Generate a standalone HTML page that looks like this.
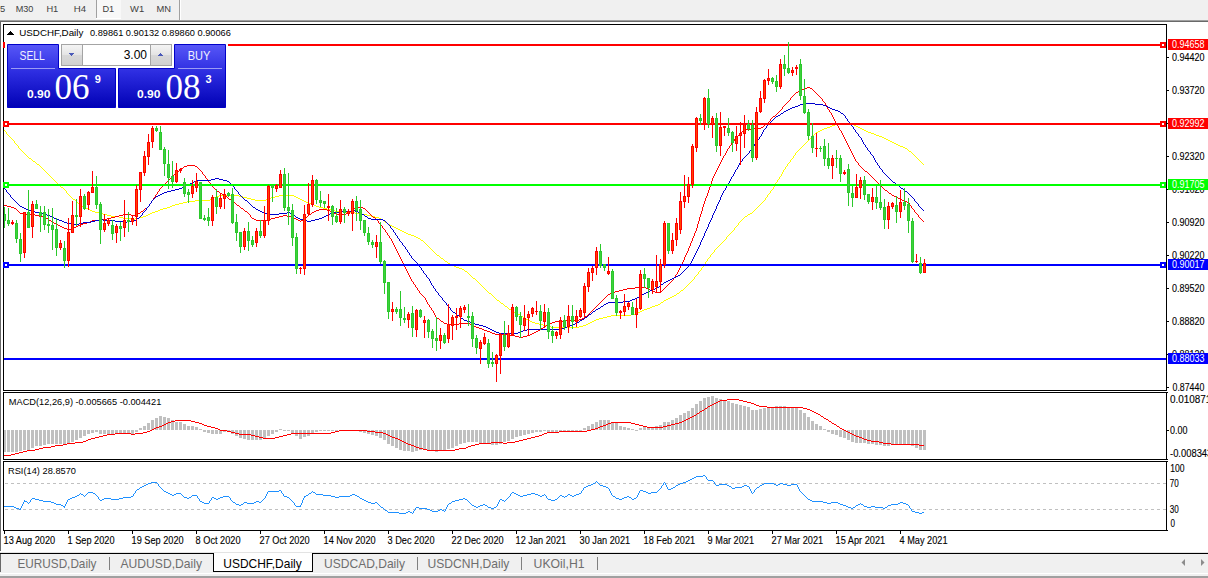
<!DOCTYPE html>
<html><head><meta charset="utf-8"><title>USDCHF,Daily</title>
<style>html,body{margin:0;padding:0;background:#fff;overflow:hidden}svg{display:block}text{font-family:"Liberation Sans",sans-serif}.k{stroke:#000;stroke-width:0.12px}</style>
</head><body>
<svg width="1208" height="578" viewBox="0 0 1208 578">
<rect x="0" y="0" width="1208" height="578" fill="#f0f0f0"/>
<rect x="0" y="20" width="1208" height="1" fill="#a0a0a0"/>
<rect x="0" y="21" width="1208" height="1" fill="#696969"/>
<rect x="1" y="22" width="1207" height="530" fill="#ffffff"/>
<rect x="0" y="21" width="1" height="530" fill="#696969"/>
<rect x="0" y="551" width="1" height="1" fill="#fff"/>
<rect x="96" y="0" width="1" height="18" fill="#a0a0a0"/>
<rect x="97" y="0" width="24" height="18" fill="#f8f8f8"/>
<rect x="179" y="0" width="1" height="20" fill="#a0a0a0"/>
<rect x="180" y="0" width="1" height="20" fill="#ffffff"/>
<rect x="96" y="18" width="25" height="1" fill="#ffffff"/>
<text x="0" y="12" font-size="9.2" fill="#404040" textLength="5.2" lengthAdjust="spacingAndGlyphs">5</text>
<text x="15.7" y="12" font-size="9.2" fill="#404040" textLength="17.7" lengthAdjust="spacingAndGlyphs">M30</text>
<text x="46.4" y="12" font-size="9.2" fill="#404040" textLength="11.9" lengthAdjust="spacingAndGlyphs">H1</text>
<text x="73.7" y="12" font-size="9.2" fill="#404040" textLength="12.3" lengthAdjust="spacingAndGlyphs">H4</text>
<text x="102.4" y="12" font-size="9.2" fill="#404040" textLength="11.8" lengthAdjust="spacingAndGlyphs">D1</text>
<text x="130.1" y="12" font-size="9.2" fill="#404040" textLength="14.1" lengthAdjust="spacingAndGlyphs">W1</text>
<text x="156.6" y="12" font-size="9.2" fill="#404040" textLength="14.5" lengthAdjust="spacingAndGlyphs">MN</text>
<rect x="3" y="24" width="1164" height="1" fill="#000"/>
<rect x="3" y="390" width="1164" height="1" fill="#000"/>
<rect x="3" y="24" width="1" height="367" fill="#000"/>
<rect x="1166" y="24" width="1" height="367" fill="#000"/>
<rect x="3" y="392" width="1164" height="1" fill="#000"/>
<rect x="3" y="459" width="1164" height="1" fill="#000"/>
<rect x="3" y="392" width="1" height="68" fill="#000"/>
<rect x="1166" y="392" width="1" height="68" fill="#000"/>
<rect x="3" y="461" width="1164" height="1" fill="#000"/>
<rect x="3" y="530" width="1164" height="1" fill="#000"/>
<rect x="3" y="461" width="1" height="70" fill="#000"/>
<rect x="1166" y="461" width="1" height="70" fill="#000"/>
<g shape-rendering="crispEdges">
<path d="M839 123h8v1h-8zM835 124h4v1h-4zM847 124h7v1h-7zM832 125h3v1h-3zM854 125h2v1h-2zM830 126h2v1h-2zM856 126h2v1h-2zM827 127h3v1h-3zM858 127h2v1h-2zM824 128h3v1h-3zM860 128h2v1h-2zM822 129h2v1h-2zM862 129h2v1h-2zM4 130h1v1h-1zM820 130h2v1h-2zM864 130h2v1h-2zM5 131h1v1h-1zM818 131h2v1h-2zM866 131h2v1h-2zM6 132h1v1h-1zM816 132h2v1h-2zM868 132h3v1h-3zM6 133h1v1h-1zM815 133h1v1h-1zM871 133h3v1h-3zM7 134h1v1h-1zM814 134h1v1h-1zM874 134h2v1h-2zM8 135h1v1h-1zM813 135h1v1h-1zM876 135h3v1h-3zM9 136h1v1h-1zM812 136h1v1h-1zM879 136h3v1h-3zM10 137h1v1h-1zM811 137h1v1h-1zM882 137h2v1h-2zM11 138h1v1h-1zM810 138h1v1h-1zM884 138h2v1h-2zM12 139h1v1h-1zM809 139h1v1h-1zM886 139h2v1h-2zM13 140h1v1h-1zM808 140h1v1h-1zM888 140h2v1h-2zM14 141h1v1h-1zM807 141h1v1h-1zM890 141h2v1h-2zM14 142h1v1h-1zM806 142h1v1h-1zM892 142h2v1h-2zM15 143h1v1h-1zM805 143h1v1h-1zM894 143h2v1h-2zM16 144h1v1h-1zM804 144h1v1h-1zM896 144h2v1h-2zM17 145h1v1h-1zM803 145h1v1h-1zM898 145h2v1h-2zM18 146h1v1h-1zM802 146h1v1h-1zM900 146h3v1h-3zM18 147h1v1h-1zM801 147h1v1h-1zM903 147h2v1h-2zM19 148h1v1h-1zM800 148h1v1h-1zM905 148h2v1h-2zM20 149h1v1h-1zM799 149h1v1h-1zM907 149h1v1h-1zM21 150h1v1h-1zM798 150h1v1h-1zM908 150h1v1h-1zM22 151h1v1h-1zM797 151h1v1h-1zM909 151h2v1h-2zM23 152h1v1h-1zM796 152h1v1h-1zM911 152h1v1h-1zM24 153h1v1h-1zM795 153h1v1h-1zM912 153h1v1h-1zM25 154h1v1h-1zM795 154h1v1h-1zM913 154h1v1h-1zM26 155h1v1h-1zM794 155h1v1h-1zM914 155h1v1h-1zM27 156h1v1h-1zM793 156h1v1h-1zM915 156h1v1h-1zM28 157h1v1h-1zM793 157h1v1h-1zM916 157h1v1h-1zM29 158h2v1h-2zM792 158h1v1h-1zM917 158h1v1h-1zM31 159h1v1h-1zM791 159h1v1h-1zM918 159h1v1h-1zM32 160h1v1h-1zM790 160h1v1h-1zM919 160h1v1h-1zM33 161h2v1h-2zM790 161h1v1h-1zM920 161h1v1h-1zM35 162h1v1h-1zM789 162h1v1h-1zM921 162h1v1h-1zM36 163h1v1h-1zM788 163h1v1h-1zM922 163h1v1h-1zM37 164h2v1h-2zM787 164h1v1h-1zM923 164h1v1h-1zM39 165h1v1h-1zM787 165h1v1h-1zM40 166h1v1h-1zM786 166h1v1h-1zM41 167h1v1h-1zM785 167h1v1h-1zM42 168h1v1h-1zM785 168h1v1h-1zM43 169h1v1h-1zM784 169h1v1h-1zM44 170h1v1h-1zM783 170h1v1h-1zM45 171h1v1h-1zM783 171h1v1h-1zM46 172h1v1h-1zM782 172h1v1h-1zM47 173h1v1h-1zM782 173h1v1h-1zM48 174h1v1h-1zM781 174h1v1h-1zM49 175h1v1h-1zM781 175h1v1h-1zM50 176h1v1h-1zM780 176h1v1h-1zM51 177h1v1h-1zM779 177h1v1h-1zM52 178h1v1h-1zM779 178h1v1h-1zM53 179h1v1h-1zM778 179h1v1h-1zM54 180h1v1h-1zM777 180h1v1h-1zM55 181h1v1h-1zM777 181h1v1h-1zM56 182h1v1h-1zM776 182h1v1h-1zM57 183h1v1h-1zM775 183h1v1h-1zM58 184h1v1h-1zM775 184h1v1h-1zM59 185h1v1h-1zM774 185h1v1h-1zM60 186h1v1h-1zM774 186h1v1h-1zM61 187h2v1h-2zM773 187h1v1h-1zM63 188h1v1h-1zM773 188h1v1h-1zM64 189h1v1h-1zM772 189h1v1h-1zM65 190h1v1h-1zM771 190h1v1h-1zM66 191h1v1h-1zM770 191h1v1h-1zM66 192h1v1h-1zM770 192h1v1h-1zM67 193h1v1h-1zM769 193h1v1h-1zM68 194h1v1h-1zM768 194h1v1h-1zM69 195h1v1h-1zM219 195h20v1h-20zM279 195h15v1h-15zM767 195h1v1h-1zM70 196h1v1h-1zM216 196h3v1h-3zM239 196h4v1h-4zM275 196h4v1h-4zM294 196h2v1h-2zM767 196h1v1h-1zM71 197h1v1h-1zM214 197h2v1h-2zM243 197h4v1h-4zM271 197h4v1h-4zM296 197h2v1h-2zM766 197h1v1h-1zM72 198h1v1h-1zM212 198h2v1h-2zM247 198h4v1h-4zM268 198h3v1h-3zM298 198h2v1h-2zM765 198h1v1h-1zM73 199h2v1h-2zM210 199h2v1h-2zM251 199h4v1h-4zM266 199h2v1h-2zM300 199h2v1h-2zM765 199h1v1h-1zM75 200h1v1h-1zM195 200h15v1h-15zM255 200h11v1h-11zM302 200h2v1h-2zM764 200h1v1h-1zM76 201h1v1h-1zM187 201h8v1h-8zM304 201h2v1h-2zM763 201h1v1h-1zM77 202h1v1h-1zM183 202h4v1h-4zM306 202h2v1h-2zM762 202h1v1h-1zM78 203h1v1h-1zM179 203h4v1h-4zM308 203h3v1h-3zM761 203h1v1h-1zM79 204h1v1h-1zM175 204h4v1h-4zM311 204h3v1h-3zM760 204h1v1h-1zM80 205h2v1h-2zM172 205h3v1h-3zM314 205h2v1h-2zM759 205h1v1h-1zM82 206h2v1h-2zM170 206h2v1h-2zM316 206h3v1h-3zM758 206h1v1h-1zM84 207h2v1h-2zM167 207h3v1h-3zM319 207h4v1h-4zM757 207h1v1h-1zM86 208h2v1h-2zM163 208h4v1h-4zM323 208h4v1h-4zM756 208h1v1h-1zM88 209h2v1h-2zM160 209h3v1h-3zM327 209h4v1h-4zM755 209h1v1h-1zM90 210h2v1h-2zM158 210h2v1h-2zM331 210h4v1h-4zM754 210h1v1h-1zM92 211h3v1h-3zM155 211h3v1h-3zM335 211h8v1h-8zM753 211h1v1h-1zM95 212h4v1h-4zM152 212h3v1h-3zM343 212h12v1h-12zM752 212h1v1h-1zM99 213h4v1h-4zM150 213h2v1h-2zM355 213h4v1h-4zM750 213h2v1h-2zM103 214h4v1h-4zM148 214h2v1h-2zM359 214h8v1h-8zM748 214h2v1h-2zM107 215h4v1h-4zM146 215h2v1h-2zM367 215h4v1h-4zM747 215h1v1h-1zM111 216h8v1h-8zM143 216h3v1h-3zM371 216h4v1h-4zM745 216h2v1h-2zM119 217h4v1h-4zM139 217h4v1h-4zM375 217h4v1h-4zM744 217h1v1h-1zM123 218h8v1h-8zM135 218h4v1h-4zM379 218h2v1h-2zM743 218h1v1h-1zM131 219h4v1h-4zM381 219h2v1h-2zM742 219h1v1h-1zM383 220h1v1h-1zM741 220h1v1h-1zM384 221h1v1h-1zM740 221h1v1h-1zM385 222h2v1h-2zM739 222h1v1h-1zM387 223h1v1h-1zM738 223h1v1h-1zM388 224h2v1h-2zM738 224h1v1h-1zM390 225h2v1h-2zM737 225h1v1h-1zM392 226h2v1h-2zM736 226h1v1h-1zM394 227h2v1h-2zM735 227h1v1h-1zM396 228h2v1h-2zM734 228h1v1h-1zM398 229h2v1h-2zM734 229h1v1h-1zM400 230h2v1h-2zM733 230h1v1h-1zM402 231h2v1h-2zM732 231h1v1h-1zM404 232h2v1h-2zM731 232h1v1h-1zM406 233h2v1h-2zM730 233h1v1h-1zM408 234h3v1h-3zM729 234h1v1h-1zM411 235h3v1h-3zM728 235h1v1h-1zM414 236h2v1h-2zM727 236h1v1h-1zM416 237h2v1h-2zM726 237h1v1h-1zM418 238h2v1h-2zM726 238h1v1h-1zM420 239h1v1h-1zM725 239h1v1h-1zM421 240h2v1h-2zM724 240h1v1h-1zM423 241h1v1h-1zM723 241h1v1h-1zM424 242h1v1h-1zM722 242h1v1h-1zM425 243h1v1h-1zM721 243h1v1h-1zM426 244h1v1h-1zM720 244h1v1h-1zM427 245h1v1h-1zM719 245h1v1h-1zM428 246h1v1h-1zM718 246h1v1h-1zM429 247h1v1h-1zM717 247h1v1h-1zM430 248h1v1h-1zM716 248h1v1h-1zM431 249h1v1h-1zM715 249h1v1h-1zM432 250h1v1h-1zM714 250h1v1h-1zM433 251h1v1h-1zM714 251h1v1h-1zM434 252h1v1h-1zM713 252h1v1h-1zM435 253h1v1h-1zM712 253h1v1h-1zM436 254h1v1h-1zM711 254h1v1h-1zM437 255h2v1h-2zM710 255h1v1h-1zM439 256h1v1h-1zM710 256h1v1h-1zM440 257h1v1h-1zM709 257h1v1h-1zM441 258h2v1h-2zM708 258h1v1h-1zM443 259h1v1h-1zM707 259h1v1h-1zM444 260h1v1h-1zM707 260h1v1h-1zM445 261h2v1h-2zM706 261h1v1h-1zM447 262h1v1h-1zM705 262h1v1h-1zM448 263h2v1h-2zM705 263h1v1h-1zM450 264h2v1h-2zM704 264h1v1h-1zM452 265h2v1h-2zM703 265h1v1h-1zM454 266h2v1h-2zM703 266h1v1h-1zM456 267h3v1h-3zM702 267h1v1h-1zM459 268h3v1h-3zM701 268h1v1h-1zM462 269h2v1h-2zM701 269h1v1h-1zM464 270h1v1h-1zM700 270h1v1h-1zM465 271h2v1h-2zM699 271h1v1h-1zM467 272h1v1h-1zM698 272h1v1h-1zM468 273h1v1h-1zM698 273h1v1h-1zM469 274h1v1h-1zM697 274h1v1h-1zM470 275h1v1h-1zM696 275h1v1h-1zM471 276h1v1h-1zM695 276h1v1h-1zM472 277h1v1h-1zM694 277h1v1h-1zM473 278h2v1h-2zM694 278h1v1h-1zM475 279h1v1h-1zM693 279h1v1h-1zM476 280h1v1h-1zM692 280h1v1h-1zM477 281h1v1h-1zM691 281h1v1h-1zM478 282h1v1h-1zM690 282h1v1h-1zM479 283h1v1h-1zM689 283h1v1h-1zM480 284h1v1h-1zM688 284h1v1h-1zM481 285h1v1h-1zM687 285h1v1h-1zM482 286h1v1h-1zM686 286h1v1h-1zM483 287h1v1h-1zM685 287h1v1h-1zM484 288h1v1h-1zM684 288h1v1h-1zM485 289h1v1h-1zM683 289h1v1h-1zM486 290h1v1h-1zM681 290h2v1h-2zM487 291h1v1h-1zM680 291h1v1h-1zM488 292h1v1h-1zM679 292h1v1h-1zM489 293h2v1h-2zM677 293h2v1h-2zM491 294h1v1h-1zM676 294h1v1h-1zM492 295h1v1h-1zM674 295h2v1h-2zM493 296h1v1h-1zM672 296h2v1h-2zM494 297h1v1h-1zM670 297h2v1h-2zM495 298h1v1h-1zM668 298h2v1h-2zM496 299h1v1h-1zM666 299h2v1h-2zM497 300h2v1h-2zM664 300h2v1h-2zM499 301h1v1h-1zM663 301h1v1h-1zM500 302h1v1h-1zM661 302h2v1h-2zM501 303h2v1h-2zM660 303h1v1h-1zM503 304h1v1h-1zM658 304h2v1h-2zM504 305h1v1h-1zM655 305h3v1h-3zM505 306h2v1h-2zM652 306h3v1h-3zM507 307h1v1h-1zM650 307h2v1h-2zM508 308h1v1h-1zM647 308h3v1h-3zM509 309h2v1h-2zM644 309h3v1h-3zM511 310h1v1h-1zM642 310h2v1h-2zM512 311h2v1h-2zM640 311h2v1h-2zM514 312h2v1h-2zM638 312h2v1h-2zM516 313h2v1h-2zM635 313h3v1h-3zM518 314h2v1h-2zM631 314h4v1h-4zM520 315h1v1h-1zM611 315h20v1h-20zM521 316h2v1h-2zM607 316h4v1h-4zM523 317h1v1h-1zM603 317h4v1h-4zM524 318h2v1h-2zM599 318h4v1h-4zM526 319h2v1h-2zM596 319h3v1h-3zM528 320h2v1h-2zM594 320h2v1h-2zM530 321h2v1h-2zM592 321h2v1h-2zM532 322h3v1h-3zM590 322h2v1h-2zM535 323h4v1h-4zM588 323h2v1h-2zM539 324h4v1h-4zM586 324h2v1h-2zM543 325h4v1h-4zM583 325h3v1h-3zM547 326h4v1h-4zM579 326h4v1h-4zM551 327h28v1h-28z" fill="#ffff00"/>
<path d="M807 87h3v1h-3zM804 88h3v1h-3zM810 88h2v1h-2zM802 89h2v1h-2zM812 89h1v1h-1zM800 90h2v1h-2zM813 90h1v1h-1zM798 91h2v1h-2zM814 91h1v1h-1zM796 92h2v1h-2zM815 92h1v1h-1zM795 93h1v1h-1zM816 93h1v1h-1zM794 94h1v1h-1zM817 94h1v1h-1zM793 95h1v1h-1zM818 95h1v1h-1zM792 96h1v1h-1zM819 96h1v1h-1zM791 97h1v1h-1zM820 97h1v1h-1zM790 98h1v1h-1zM821 98h1v1h-1zM790 99h1v1h-1zM822 99h1v1h-1zM789 100h1v1h-1zM822 100h1v1h-1zM788 101h1v1h-1zM823 101h1v1h-1zM787 102h1v1h-1zM824 102h1v1h-1zM786 103h1v1h-1zM825 103h1v1h-1zM785 104h1v1h-1zM825 104h1v1h-1zM784 105h1v1h-1zM826 105h1v1h-1zM783 106h1v1h-1zM826 106h1v1h-1zM782 107h1v1h-1zM827 107h1v1h-1zM782 108h1v1h-1zM827 108h1v1h-1zM781 109h1v1h-1zM828 109h1v1h-1zM780 110h1v1h-1zM829 110h1v1h-1zM779 111h1v1h-1zM829 111h1v1h-1zM778 112h1v1h-1zM830 112h1v1h-1zM777 113h1v1h-1zM831 113h1v1h-1zM776 114h1v1h-1zM831 114h1v1h-1zM775 115h1v1h-1zM832 115h1v1h-1zM773 116h2v1h-2zM832 116h1v1h-1zM772 117h1v1h-1zM833 117h1v1h-1zM771 118h1v1h-1zM833 118h1v1h-1zM770 119h1v1h-1zM834 119h1v1h-1zM770 120h1v1h-1zM834 120h1v1h-1zM769 121h1v1h-1zM835 121h1v1h-1zM768 122h1v1h-1zM835 122h1v1h-1zM767 123h1v1h-1zM836 123h1v1h-1zM765 124h2v1h-2zM837 124h1v1h-1zM764 125h1v1h-1zM837 125h1v1h-1zM763 126h1v1h-1zM838 126h1v1h-1zM761 127h2v1h-2zM838 127h1v1h-1zM751 128h10v1h-10zM839 128h1v1h-1zM744 129h7v1h-7zM839 129h1v1h-1zM743 130h1v1h-1zM840 130h1v1h-1zM742 131h1v1h-1zM841 131h1v1h-1zM741 132h1v1h-1zM841 132h1v1h-1zM740 133h1v1h-1zM842 133h1v1h-1zM739 134h1v1h-1zM842 134h1v1h-1zM738 135h1v1h-1zM843 135h1v1h-1zM737 136h1v1h-1zM843 136h1v1h-1zM736 137h1v1h-1zM844 137h1v1h-1zM735 138h1v1h-1zM844 138h1v1h-1zM734 139h1v1h-1zM845 139h1v1h-1zM734 140h1v1h-1zM845 140h1v1h-1zM733 141h1v1h-1zM846 141h1v1h-1zM732 142h1v1h-1zM846 142h1v1h-1zM731 143h1v1h-1zM847 143h1v1h-1zM731 144h1v1h-1zM847 144h1v1h-1zM730 145h1v1h-1zM848 145h1v1h-1zM729 146h1v1h-1zM848 146h1v1h-1zM729 147h1v1h-1zM849 147h1v1h-1zM728 148h1v1h-1zM849 148h1v1h-1zM727 149h1v1h-1zM850 149h1v1h-1zM727 150h1v1h-1zM850 150h1v1h-1zM726 151h1v1h-1zM851 151h1v1h-1zM726 152h1v1h-1zM851 152h1v1h-1zM725 153h1v1h-1zM852 153h1v1h-1zM725 154h1v1h-1zM852 154h1v1h-1zM724 155h1v1h-1zM853 155h1v1h-1zM723 156h1v1h-1zM853 156h1v1h-1zM723 157h1v1h-1zM854 157h1v1h-1zM722 158h1v1h-1zM854 158h1v1h-1zM722 159h1v1h-1zM855 159h1v1h-1zM721 160h1v1h-1zM855 160h1v1h-1zM721 161h1v1h-1zM856 161h1v1h-1zM720 162h1v1h-1zM857 162h1v1h-1zM720 163h1v1h-1zM858 163h1v1h-1zM719 164h1v1h-1zM858 164h1v1h-1zM187 165h8v1h-8zM719 165h1v1h-1zM859 165h1v1h-1zM184 166h3v1h-3zM195 166h2v1h-2zM718 166h1v1h-1zM860 166h1v1h-1zM183 167h1v1h-1zM197 167h1v1h-1zM718 167h1v1h-1zM861 167h1v1h-1zM181 168h2v1h-2zM198 168h1v1h-1zM717 168h1v1h-1zM862 168h1v1h-1zM180 169h1v1h-1zM199 169h1v1h-1zM717 169h1v1h-1zM863 169h1v1h-1zM179 170h1v1h-1zM200 170h1v1h-1zM716 170h1v1h-1zM864 170h1v1h-1zM177 171h2v1h-2zM201 171h1v1h-1zM716 171h1v1h-1zM865 171h2v1h-2zM176 172h1v1h-1zM202 172h1v1h-1zM715 172h1v1h-1zM867 172h1v1h-1zM175 173h1v1h-1zM202 173h1v1h-1zM715 173h1v1h-1zM868 173h1v1h-1zM174 174h1v1h-1zM203 174h1v1h-1zM714 174h1v1h-1zM869 174h1v1h-1zM173 175h1v1h-1zM204 175h1v1h-1zM714 175h1v1h-1zM870 175h1v1h-1zM172 176h1v1h-1zM205 176h1v1h-1zM713 176h1v1h-1zM871 176h1v1h-1zM171 177h1v1h-1zM205 177h1v1h-1zM713 177h1v1h-1zM872 177h1v1h-1zM170 178h1v1h-1zM206 178h1v1h-1zM712 178h1v1h-1zM873 178h1v1h-1zM169 179h1v1h-1zM207 179h1v1h-1zM712 179h1v1h-1zM874 179h1v1h-1zM168 180h1v1h-1zM207 180h1v1h-1zM712 180h1v1h-1zM875 180h1v1h-1zM167 181h1v1h-1zM208 181h1v1h-1zM711 181h1v1h-1zM876 181h1v1h-1zM166 182h1v1h-1zM209 182h1v1h-1zM711 182h1v1h-1zM877 182h1v1h-1zM165 183h1v1h-1zM210 183h1v1h-1zM711 183h1v1h-1zM878 183h1v1h-1zM164 184h1v1h-1zM210 184h1v1h-1zM710 184h1v1h-1zM879 184h1v1h-1zM163 185h1v1h-1zM211 185h1v1h-1zM710 185h1v1h-1zM880 185h1v1h-1zM162 186h1v1h-1zM212 186h1v1h-1zM710 186h1v1h-1zM881 186h1v1h-1zM161 187h1v1h-1zM213 187h1v1h-1zM709 187h1v1h-1zM882 187h1v1h-1zM160 188h1v1h-1zM214 188h1v1h-1zM709 188h1v1h-1zM883 188h1v1h-1zM159 189h1v1h-1zM215 189h1v1h-1zM709 189h1v1h-1zM884 189h1v1h-1zM159 190h1v1h-1zM216 190h1v1h-1zM708 190h1v1h-1zM885 190h2v1h-2zM158 191h1v1h-1zM217 191h2v1h-2zM708 191h1v1h-1zM887 191h1v1h-1zM157 192h1v1h-1zM219 192h1v1h-1zM708 192h1v1h-1zM888 192h1v1h-1zM157 193h1v1h-1zM220 193h2v1h-2zM707 193h1v1h-1zM889 193h2v1h-2zM156 194h1v1h-1zM222 194h2v1h-2zM707 194h1v1h-1zM891 194h1v1h-1zM155 195h1v1h-1zM224 195h1v1h-1zM707 195h1v1h-1zM892 195h2v1h-2zM155 196h1v1h-1zM225 196h2v1h-2zM706 196h1v1h-1zM894 196h2v1h-2zM154 197h1v1h-1zM227 197h1v1h-1zM706 197h1v1h-1zM896 197h2v1h-2zM153 198h1v1h-1zM228 198h1v1h-1zM705 198h1v1h-1zM898 198h2v1h-2zM153 199h1v1h-1zM229 199h2v1h-2zM705 199h1v1h-1zM900 199h2v1h-2zM152 200h1v1h-1zM231 200h1v1h-1zM705 200h1v1h-1zM902 200h2v1h-2zM151 201h1v1h-1zM232 201h1v1h-1zM704 201h1v1h-1zM904 201h3v1h-3zM151 202h1v1h-1zM233 202h2v1h-2zM704 202h1v1h-1zM907 202h2v1h-2zM150 203h1v1h-1zM235 203h1v1h-1zM704 203h1v1h-1zM909 203h1v1h-1zM149 204h1v1h-1zM236 204h1v1h-1zM703 204h1v1h-1zM909 204h1v1h-1zM4 205h3v1h-3zM149 205h1v1h-1zM237 205h2v1h-2zM703 205h1v1h-1zM910 205h1v1h-1zM7 206h4v1h-4zM148 206h1v1h-1zM239 206h1v1h-1zM703 206h1v1h-1zM911 206h1v1h-1zM11 207h3v1h-3zM147 207h1v1h-1zM240 207h1v1h-1zM356 207h7v1h-7zM702 207h1v1h-1zM911 207h1v1h-1zM14 208h2v1h-2zM145 208h2v1h-2zM241 208h2v1h-2zM354 208h2v1h-2zM363 208h2v1h-2zM702 208h1v1h-1zM912 208h1v1h-1zM16 209h1v1h-1zM144 209h1v1h-1zM243 209h1v1h-1zM319 209h8v1h-8zM352 209h2v1h-2zM365 209h1v1h-1zM702 209h1v1h-1zM913 209h1v1h-1zM17 210h1v1h-1zM143 210h1v1h-1zM244 210h1v1h-1zM316 210h3v1h-3zM327 210h3v1h-3zM351 210h1v1h-1zM366 210h1v1h-1zM702 210h1v1h-1zM914 210h1v1h-1zM18 211h1v1h-1zM141 211h2v1h-2zM245 211h2v1h-2zM314 211h2v1h-2zM330 211h2v1h-2zM349 211h2v1h-2zM367 211h1v1h-1zM701 211h1v1h-1zM914 211h1v1h-1zM19 212h1v1h-1zM140 212h1v1h-1zM247 212h1v1h-1zM312 212h2v1h-2zM332 212h2v1h-2zM348 212h1v1h-1zM368 212h1v1h-1zM701 212h1v1h-1zM915 212h1v1h-1zM20 213h3v1h-3zM138 213h2v1h-2zM248 213h1v1h-1zM311 213h1v1h-1zM334 213h2v1h-2zM346 213h2v1h-2zM369 213h1v1h-1zM701 213h1v1h-1zM916 213h1v1h-1zM23 214h12v1h-12zM123 214h8v1h-8zM135 214h3v1h-3zM249 214h1v1h-1zM309 214h2v1h-2zM336 214h10v1h-10zM370 214h1v1h-1zM700 214h1v1h-1zM917 214h1v1h-1zM35 215h4v1h-4zM119 215h4v1h-4zM131 215h4v1h-4zM250 215h1v1h-1zM283 215h4v1h-4zM308 215h1v1h-1zM371 215h1v1h-1zM700 215h1v1h-1zM918 215h1v1h-1zM39 216h4v1h-4zM115 216h4v1h-4zM250 216h1v1h-1zM279 216h4v1h-4zM287 216h4v1h-4zM307 216h1v1h-1zM372 216h1v1h-1zM700 216h1v1h-1zM918 216h1v1h-1zM43 217h3v1h-3zM111 217h4v1h-4zM251 217h1v1h-1zM275 217h4v1h-4zM291 217h3v1h-3zM305 217h2v1h-2zM373 217h2v1h-2zM699 217h1v1h-1zM919 217h1v1h-1zM46 218h2v1h-2zM107 218h4v1h-4zM252 218h2v1h-2zM271 218h4v1h-4zM294 218h2v1h-2zM304 218h1v1h-1zM375 218h1v1h-1zM699 218h1v1h-1zM920 218h1v1h-1zM48 219h1v1h-1zM99 219h8v1h-8zM254 219h2v1h-2zM267 219h4v1h-4zM296 219h2v1h-2zM303 219h1v1h-1zM376 219h1v1h-1zM699 219h1v1h-1zM921 219h1v1h-1zM49 220h2v1h-2zM92 220h7v1h-7zM256 220h11v1h-11zM298 220h2v1h-2zM301 220h2v1h-2zM377 220h1v1h-1zM699 220h1v1h-1zM922 220h1v1h-1zM51 221h1v1h-1zM90 221h2v1h-2zM300 221h1v1h-1zM378 221h1v1h-1zM698 221h1v1h-1zM923 221h1v1h-1zM52 222h2v1h-2zM87 222h3v1h-3zM378 222h1v1h-1zM698 222h1v1h-1zM54 223h2v1h-2zM83 223h4v1h-4zM379 223h1v1h-1zM698 223h1v1h-1zM56 224h2v1h-2zM80 224h3v1h-3zM380 224h1v1h-1zM697 224h1v1h-1zM58 225h2v1h-2zM78 225h2v1h-2zM381 225h1v1h-1zM697 225h1v1h-1zM60 226h2v1h-2zM76 226h2v1h-2zM382 226h1v1h-1zM697 226h1v1h-1zM62 227h2v1h-2zM74 227h2v1h-2zM382 227h1v1h-1zM697 227h1v1h-1zM64 228h3v1h-3zM71 228h3v1h-3zM383 228h1v1h-1zM696 228h1v1h-1zM67 229h4v1h-4zM384 229h1v1h-1zM696 229h1v1h-1zM385 230h1v1h-1zM696 230h1v1h-1zM385 231h1v1h-1zM695 231h1v1h-1zM386 232h1v1h-1zM695 232h1v1h-1zM387 233h1v1h-1zM694 233h1v1h-1zM387 234h1v1h-1zM694 234h1v1h-1zM388 235h1v1h-1zM694 235h1v1h-1zM389 236h1v1h-1zM693 236h1v1h-1zM389 237h1v1h-1zM693 237h1v1h-1zM390 238h1v1h-1zM692 238h1v1h-1zM391 239h1v1h-1zM692 239h1v1h-1zM391 240h1v1h-1zM692 240h1v1h-1zM392 241h1v1h-1zM691 241h1v1h-1zM392 242h1v1h-1zM691 242h1v1h-1zM393 243h1v1h-1zM690 243h1v1h-1zM393 244h1v1h-1zM690 244h1v1h-1zM394 245h1v1h-1zM690 245h1v1h-1zM394 246h1v1h-1zM689 246h1v1h-1zM395 247h1v1h-1zM689 247h1v1h-1zM395 248h1v1h-1zM688 248h1v1h-1zM396 249h1v1h-1zM688 249h1v1h-1zM396 250h1v1h-1zM688 250h1v1h-1zM397 251h1v1h-1zM687 251h1v1h-1zM397 252h1v1h-1zM687 252h1v1h-1zM398 253h1v1h-1zM686 253h1v1h-1zM398 254h1v1h-1zM686 254h1v1h-1zM399 255h1v1h-1zM685 255h1v1h-1zM399 256h1v1h-1zM685 256h1v1h-1zM400 257h1v1h-1zM684 257h1v1h-1zM400 258h1v1h-1zM684 258h1v1h-1zM401 259h1v1h-1zM684 259h1v1h-1zM401 260h1v1h-1zM683 260h1v1h-1zM402 261h1v1h-1zM683 261h1v1h-1zM402 262h1v1h-1zM682 262h1v1h-1zM403 263h1v1h-1zM682 263h1v1h-1zM403 264h1v1h-1zM681 264h1v1h-1zM404 265h1v1h-1zM681 265h1v1h-1zM404 266h1v1h-1zM680 266h1v1h-1zM405 267h1v1h-1zM680 267h1v1h-1zM405 268h1v1h-1zM679 268h1v1h-1zM406 269h1v1h-1zM679 269h1v1h-1zM406 270h1v1h-1zM678 270h1v1h-1zM407 271h1v1h-1zM678 271h1v1h-1zM407 272h1v1h-1zM677 272h1v1h-1zM408 273h1v1h-1zM677 273h1v1h-1zM408 274h1v1h-1zM676 274h1v1h-1zM409 275h1v1h-1zM675 275h1v1h-1zM409 276h1v1h-1zM675 276h1v1h-1zM410 277h1v1h-1zM674 277h1v1h-1zM410 278h1v1h-1zM673 278h1v1h-1zM411 279h1v1h-1zM673 279h1v1h-1zM411 280h1v1h-1zM672 280h1v1h-1zM412 281h1v1h-1zM671 281h1v1h-1zM413 282h1v1h-1zM670 282h1v1h-1zM413 283h1v1h-1zM669 283h1v1h-1zM414 284h1v1h-1zM668 284h1v1h-1zM415 285h1v1h-1zM667 285h1v1h-1zM415 286h1v1h-1zM666 286h1v1h-1zM416 287h1v1h-1zM635 287h11v1h-11zM665 287h1v1h-1zM417 288h1v1h-1zM627 288h8v1h-8zM646 288h2v1h-2zM664 288h1v1h-1zM417 289h1v1h-1zM623 289h4v1h-4zM648 289h2v1h-2zM663 289h1v1h-1zM418 290h1v1h-1zM619 290h4v1h-4zM650 290h2v1h-2zM662 290h1v1h-1zM419 291h1v1h-1zM615 291h4v1h-4zM652 291h3v1h-3zM661 291h1v1h-1zM419 292h1v1h-1zM612 292h3v1h-3zM655 292h6v1h-6zM420 293h1v1h-1zM610 293h2v1h-2zM421 294h1v1h-1zM608 294h2v1h-2zM422 295h1v1h-1zM607 295h1v1h-1zM423 296h1v1h-1zM606 296h1v1h-1zM424 297h1v1h-1zM605 297h1v1h-1zM425 298h1v1h-1zM604 298h1v1h-1zM425 299h1v1h-1zM603 299h1v1h-1zM426 300h1v1h-1zM602 300h1v1h-1zM426 301h1v1h-1zM601 301h1v1h-1zM427 302h1v1h-1zM600 302h1v1h-1zM427 303h1v1h-1zM599 303h1v1h-1zM428 304h1v1h-1zM598 304h1v1h-1zM429 305h1v1h-1zM597 305h1v1h-1zM429 306h1v1h-1zM596 306h1v1h-1zM430 307h1v1h-1zM595 307h1v1h-1zM431 308h1v1h-1zM594 308h1v1h-1zM431 309h1v1h-1zM593 309h1v1h-1zM432 310h1v1h-1zM592 310h1v1h-1zM433 311h1v1h-1zM591 311h1v1h-1zM433 312h1v1h-1zM590 312h1v1h-1zM434 313h1v1h-1zM589 313h1v1h-1zM434 314h1v1h-1zM588 314h1v1h-1zM435 315h1v1h-1zM587 315h1v1h-1zM435 316h1v1h-1zM585 316h2v1h-2zM436 317h1v1h-1zM584 317h1v1h-1zM437 318h2v1h-2zM582 318h2v1h-2zM439 319h1v1h-1zM579 319h3v1h-3zM440 320h1v1h-1zM563 320h16v1h-16zM441 321h2v1h-2zM555 321h8v1h-8zM443 322h1v1h-1zM552 322h3v1h-3zM444 323h3v1h-3zM459 323h11v1h-11zM550 323h2v1h-2zM447 324h12v1h-12zM470 324h2v1h-2zM548 324h2v1h-2zM472 325h2v1h-2zM546 325h2v1h-2zM474 326h2v1h-2zM544 326h2v1h-2zM476 327h3v1h-3zM543 327h1v1h-1zM479 328h3v1h-3zM541 328h2v1h-2zM482 329h2v1h-2zM540 329h1v1h-1zM484 330h3v1h-3zM538 330h2v1h-2zM487 331h3v1h-3zM536 331h2v1h-2zM490 332h2v1h-2zM534 332h2v1h-2zM492 333h3v1h-3zM532 333h2v1h-2zM495 334h12v1h-12zM530 334h2v1h-2zM507 335h8v1h-8zM527 335h3v1h-3zM515 336h4v1h-4zM523 336h4v1h-4zM519 337h4v1h-4z" fill="#ff0000"/>
<path d="M803 103h12v1h-12zM800 104h3v1h-3zM815 104h8v1h-8zM798 105h2v1h-2zM823 105h3v1h-3zM795 106h3v1h-3zM826 106h2v1h-2zM792 107h3v1h-3zM828 107h2v1h-2zM790 108h2v1h-2zM830 108h2v1h-2zM788 109h2v1h-2zM832 109h3v1h-3zM786 110h2v1h-2zM835 110h3v1h-3zM784 111h2v1h-2zM838 111h2v1h-2zM783 112h1v1h-1zM840 112h1v1h-1zM781 113h2v1h-2zM841 113h2v1h-2zM780 114h1v1h-1zM843 114h1v1h-1zM778 115h2v1h-2zM844 115h1v1h-1zM776 116h2v1h-2zM845 116h1v1h-1zM775 117h1v1h-1zM845 117h1v1h-1zM774 118h1v1h-1zM846 118h1v1h-1zM773 119h1v1h-1zM847 119h1v1h-1zM772 120h1v1h-1zM847 120h1v1h-1zM771 121h1v1h-1zM848 121h1v1h-1zM770 122h1v1h-1zM849 122h1v1h-1zM769 123h1v1h-1zM850 123h1v1h-1zM768 124h1v1h-1zM850 124h1v1h-1zM767 125h1v1h-1zM851 125h1v1h-1zM766 126h1v1h-1zM852 126h1v1h-1zM766 127h1v1h-1zM853 127h1v1h-1zM765 128h1v1h-1zM853 128h1v1h-1zM764 129h1v1h-1zM854 129h1v1h-1zM763 130h1v1h-1zM855 130h1v1h-1zM763 131h1v1h-1zM855 131h1v1h-1zM762 132h1v1h-1zM856 132h1v1h-1zM762 133h1v1h-1zM857 133h1v1h-1zM761 134h1v1h-1zM858 134h1v1h-1zM761 135h1v1h-1zM858 135h1v1h-1zM760 136h1v1h-1zM859 136h1v1h-1zM759 137h1v1h-1zM860 137h1v1h-1zM759 138h1v1h-1zM861 138h1v1h-1zM758 139h1v1h-1zM861 139h1v1h-1zM757 140h1v1h-1zM862 140h1v1h-1zM757 141h1v1h-1zM862 141h1v1h-1zM756 142h1v1h-1zM863 142h1v1h-1zM755 143h1v1h-1zM863 143h1v1h-1zM754 144h1v1h-1zM864 144h1v1h-1zM754 145h1v1h-1zM865 145h1v1h-1zM753 146h1v1h-1zM865 146h1v1h-1zM752 147h1v1h-1zM866 147h1v1h-1zM751 148h1v1h-1zM867 148h1v1h-1zM751 149h1v1h-1zM867 149h1v1h-1zM750 150h1v1h-1zM868 150h1v1h-1zM749 151h1v1h-1zM869 151h1v1h-1zM749 152h1v1h-1zM870 152h1v1h-1zM748 153h1v1h-1zM870 153h1v1h-1zM747 154h1v1h-1zM871 154h1v1h-1zM746 155h1v1h-1zM872 155h1v1h-1zM745 156h1v1h-1zM873 156h1v1h-1zM744 157h1v1h-1zM873 157h1v1h-1zM743 158h1v1h-1zM874 158h1v1h-1zM742 159h1v1h-1zM874 159h1v1h-1zM742 160h1v1h-1zM875 160h1v1h-1zM741 161h1v1h-1zM875 161h1v1h-1zM740 162h1v1h-1zM876 162h1v1h-1zM739 163h1v1h-1zM877 163h1v1h-1zM739 164h1v1h-1zM877 164h1v1h-1zM738 165h1v1h-1zM878 165h1v1h-1zM738 166h1v1h-1zM879 166h1v1h-1zM737 167h1v1h-1zM879 167h1v1h-1zM737 168h1v1h-1zM880 168h1v1h-1zM736 169h1v1h-1zM881 169h1v1h-1zM735 170h1v1h-1zM882 170h1v1h-1zM735 171h1v1h-1zM882 171h1v1h-1zM734 172h1v1h-1zM883 172h1v1h-1zM734 173h1v1h-1zM884 173h1v1h-1zM733 174h1v1h-1zM885 174h1v1h-1zM733 175h1v1h-1zM886 175h1v1h-1zM732 176h1v1h-1zM887 176h1v1h-1zM731 177h1v1h-1zM888 177h1v1h-1zM215 178h4v1h-4zM731 178h1v1h-1zM889 178h1v1h-1zM211 179h4v1h-4zM219 179h4v1h-4zM730 179h1v1h-1zM890 179h1v1h-1zM196 180h15v1h-15zM223 180h4v1h-4zM730 180h1v1h-1zM891 180h1v1h-1zM194 181h2v1h-2zM227 181h2v1h-2zM729 181h1v1h-1zM892 181h1v1h-1zM192 182h2v1h-2zM229 182h1v1h-1zM729 182h1v1h-1zM893 182h2v1h-2zM190 183h2v1h-2zM230 183h1v1h-1zM728 183h1v1h-1zM895 183h1v1h-1zM188 184h2v1h-2zM231 184h1v1h-1zM727 184h1v1h-1zM896 184h1v1h-1zM186 185h2v1h-2zM232 185h1v1h-1zM727 185h1v1h-1zM897 185h2v1h-2zM184 186h2v1h-2zM233 186h1v1h-1zM726 186h1v1h-1zM899 186h1v1h-1zM182 187h2v1h-2zM234 187h1v1h-1zM726 187h1v1h-1zM900 187h1v1h-1zM4 188h1v1h-1zM179 188h3v1h-3zM234 188h1v1h-1zM725 188h1v1h-1zM901 188h2v1h-2zM5 189h1v1h-1zM175 189h4v1h-4zM235 189h1v1h-1zM725 189h1v1h-1zM903 189h1v1h-1zM6 190h1v1h-1zM171 190h4v1h-4zM236 190h1v1h-1zM724 190h1v1h-1zM904 190h1v1h-1zM6 191h1v1h-1zM167 191h4v1h-4zM237 191h1v1h-1zM723 191h1v1h-1zM905 191h2v1h-2zM7 192h1v1h-1zM164 192h3v1h-3zM238 192h1v1h-1zM723 192h1v1h-1zM907 192h1v1h-1zM8 193h1v1h-1zM162 193h2v1h-2zM238 193h1v1h-1zM722 193h1v1h-1zM908 193h1v1h-1zM9 194h1v1h-1zM160 194h2v1h-2zM239 194h1v1h-1zM722 194h1v1h-1zM909 194h1v1h-1zM10 195h1v1h-1zM158 195h2v1h-2zM240 195h1v1h-1zM721 195h1v1h-1zM910 195h1v1h-1zM10 196h1v1h-1zM156 196h2v1h-2zM241 196h1v1h-1zM721 196h1v1h-1zM911 196h1v1h-1zM11 197h1v1h-1zM155 197h1v1h-1zM242 197h1v1h-1zM720 197h1v1h-1zM912 197h1v1h-1zM12 198h1v1h-1zM154 198h1v1h-1zM243 198h1v1h-1zM720 198h1v1h-1zM913 198h1v1h-1zM13 199h1v1h-1zM153 199h1v1h-1zM244 199h1v1h-1zM720 199h1v1h-1zM914 199h1v1h-1zM14 200h1v1h-1zM152 200h1v1h-1zM245 200h2v1h-2zM719 200h1v1h-1zM914 200h1v1h-1zM15 201h1v1h-1zM151 201h1v1h-1zM247 201h1v1h-1zM719 201h1v1h-1zM915 201h1v1h-1zM16 202h1v1h-1zM151 202h1v1h-1zM248 202h1v1h-1zM718 202h1v1h-1zM916 202h1v1h-1zM17 203h1v1h-1zM150 203h1v1h-1zM249 203h1v1h-1zM718 203h1v1h-1zM917 203h1v1h-1zM18 204h1v1h-1zM149 204h1v1h-1zM250 204h1v1h-1zM717 204h1v1h-1zM918 204h1v1h-1zM19 205h1v1h-1zM149 205h1v1h-1zM251 205h1v1h-1zM717 205h1v1h-1zM918 205h1v1h-1zM20 206h2v1h-2zM148 206h1v1h-1zM252 206h1v1h-1zM716 206h1v1h-1zM919 206h1v1h-1zM22 207h2v1h-2zM147 207h1v1h-1zM253 207h2v1h-2zM716 207h1v1h-1zM920 207h1v1h-1zM24 208h2v1h-2zM146 208h1v1h-1zM255 208h1v1h-1zM716 208h1v1h-1zM921 208h1v1h-1zM26 209h2v1h-2zM146 209h1v1h-1zM256 209h2v1h-2zM715 209h1v1h-1zM922 209h1v1h-1zM28 210h3v1h-3zM145 210h1v1h-1zM258 210h2v1h-2zM351 210h4v1h-4zM715 210h1v1h-1zM923 210h1v1h-1zM31 211h4v1h-4zM144 211h1v1h-1zM260 211h2v1h-2zM339 211h12v1h-12zM355 211h3v1h-3zM714 211h1v1h-1zM35 212h4v1h-4zM143 212h1v1h-1zM262 212h2v1h-2zM287 212h3v1h-3zM332 212h7v1h-7zM358 212h2v1h-2zM714 212h1v1h-1zM39 213h4v1h-4zM142 213h1v1h-1zM264 213h3v1h-3zM279 213h8v1h-8zM290 213h2v1h-2zM330 213h2v1h-2zM360 213h2v1h-2zM713 213h1v1h-1zM43 214h4v1h-4zM142 214h1v1h-1zM267 214h12v1h-12zM292 214h1v1h-1zM328 214h2v1h-2zM362 214h2v1h-2zM713 214h1v1h-1zM47 215h3v1h-3zM141 215h1v1h-1zM293 215h2v1h-2zM326 215h2v1h-2zM364 215h1v1h-1zM712 215h1v1h-1zM50 216h2v1h-2zM140 216h1v1h-1zM295 216h1v1h-1zM324 216h2v1h-2zM365 216h2v1h-2zM712 216h1v1h-1zM52 217h2v1h-2zM139 217h1v1h-1zM296 217h2v1h-2zM322 217h2v1h-2zM367 217h1v1h-1zM712 217h1v1h-1zM54 218h2v1h-2zM137 218h2v1h-2zM298 218h2v1h-2zM319 218h3v1h-3zM368 218h3v1h-3zM711 218h1v1h-1zM56 219h3v1h-3zM99 219h4v1h-4zM136 219h1v1h-1zM300 219h3v1h-3zM315 219h4v1h-4zM371 219h12v1h-12zM711 219h1v1h-1zM59 220h3v1h-3zM95 220h4v1h-4zM103 220h12v1h-12zM134 220h2v1h-2zM303 220h4v1h-4zM311 220h4v1h-4zM383 220h2v1h-2zM710 220h1v1h-1zM62 221h2v1h-2zM91 221h4v1h-4zM115 221h8v1h-8zM127 221h7v1h-7zM307 221h4v1h-4zM385 221h1v1h-1zM710 221h1v1h-1zM64 222h3v1h-3zM83 222h8v1h-8zM123 222h4v1h-4zM386 222h1v1h-1zM709 222h1v1h-1zM67 223h4v1h-4zM79 223h4v1h-4zM387 223h1v1h-1zM709 223h1v1h-1zM71 224h8v1h-8zM388 224h1v1h-1zM708 224h1v1h-1zM389 225h1v1h-1zM708 225h1v1h-1zM390 226h1v1h-1zM708 226h1v1h-1zM390 227h1v1h-1zM707 227h1v1h-1zM391 228h1v1h-1zM707 228h1v1h-1zM392 229h1v1h-1zM706 229h1v1h-1zM393 230h1v1h-1zM706 230h1v1h-1zM393 231h1v1h-1zM705 231h1v1h-1zM394 232h1v1h-1zM705 232h1v1h-1zM395 233h1v1h-1zM704 233h1v1h-1zM395 234h1v1h-1zM704 234h1v1h-1zM396 235h1v1h-1zM704 235h1v1h-1zM397 236h1v1h-1zM703 236h1v1h-1zM397 237h1v1h-1zM703 237h1v1h-1zM398 238h1v1h-1zM702 238h1v1h-1zM399 239h1v1h-1zM702 239h1v1h-1zM399 240h1v1h-1zM701 240h1v1h-1zM400 241h1v1h-1zM701 241h1v1h-1zM401 242h1v1h-1zM700 242h1v1h-1zM402 243h1v1h-1zM700 243h1v1h-1zM402 244h1v1h-1zM700 244h1v1h-1zM403 245h1v1h-1zM699 245h1v1h-1zM404 246h1v1h-1zM699 246h1v1h-1zM405 247h1v1h-1zM698 247h1v1h-1zM405 248h1v1h-1zM698 248h1v1h-1zM406 249h1v1h-1zM697 249h1v1h-1zM407 250h1v1h-1zM697 250h1v1h-1zM407 251h1v1h-1zM696 251h1v1h-1zM408 252h1v1h-1zM696 252h1v1h-1zM409 253h1v1h-1zM695 253h1v1h-1zM409 254h1v1h-1zM695 254h1v1h-1zM410 255h1v1h-1zM694 255h1v1h-1zM411 256h1v1h-1zM694 256h1v1h-1zM411 257h1v1h-1zM693 257h1v1h-1zM412 258h1v1h-1zM693 258h1v1h-1zM413 259h1v1h-1zM692 259h1v1h-1zM414 260h1v1h-1zM692 260h1v1h-1zM415 261h1v1h-1zM691 261h1v1h-1zM416 262h1v1h-1zM691 262h1v1h-1zM417 263h1v1h-1zM690 263h1v1h-1zM418 264h1v1h-1zM689 264h1v1h-1zM418 265h1v1h-1zM689 265h1v1h-1zM419 266h1v1h-1zM688 266h1v1h-1zM420 267h1v1h-1zM687 267h1v1h-1zM421 268h1v1h-1zM686 268h1v1h-1zM421 269h1v1h-1zM685 269h1v1h-1zM422 270h1v1h-1zM684 270h1v1h-1zM423 271h1v1h-1zM683 271h1v1h-1zM423 272h1v1h-1zM682 272h1v1h-1zM424 273h1v1h-1zM681 273h1v1h-1zM425 274h1v1h-1zM680 274h1v1h-1zM426 275h1v1h-1zM678 275h2v1h-2zM426 276h1v1h-1zM676 276h2v1h-2zM427 277h1v1h-1zM674 277h2v1h-2zM428 278h1v1h-1zM672 278h2v1h-2zM429 279h1v1h-1zM670 279h2v1h-2zM429 280h1v1h-1zM668 280h2v1h-2zM430 281h1v1h-1zM666 281h2v1h-2zM430 282h1v1h-1zM664 282h2v1h-2zM431 283h1v1h-1zM663 283h1v1h-1zM431 284h1v1h-1zM661 284h2v1h-2zM432 285h1v1h-1zM660 285h1v1h-1zM433 286h1v1h-1zM659 286h1v1h-1zM433 287h1v1h-1zM657 287h2v1h-2zM434 288h1v1h-1zM655 288h2v1h-2zM435 289h1v1h-1zM652 289h3v1h-3zM435 290h1v1h-1zM650 290h2v1h-2zM436 291h1v1h-1zM648 291h2v1h-2zM437 292h1v1h-1zM646 292h2v1h-2zM438 293h1v1h-1zM644 293h2v1h-2zM438 294h1v1h-1zM642 294h2v1h-2zM439 295h1v1h-1zM640 295h2v1h-2zM440 296h1v1h-1zM639 296h1v1h-1zM441 297h1v1h-1zM637 297h2v1h-2zM442 298h1v1h-1zM635 298h2v1h-2zM442 299h1v1h-1zM632 299h3v1h-3zM443 300h1v1h-1zM630 300h2v1h-2zM444 301h1v1h-1zM623 301h7v1h-7zM445 302h1v1h-1zM608 302h15v1h-15zM446 303h1v1h-1zM606 303h2v1h-2zM446 304h1v1h-1zM604 304h2v1h-2zM447 305h1v1h-1zM603 305h1v1h-1zM448 306h1v1h-1zM601 306h2v1h-2zM449 307h1v1h-1zM600 307h1v1h-1zM450 308h1v1h-1zM598 308h2v1h-2zM450 309h1v1h-1zM596 309h2v1h-2zM451 310h1v1h-1zM595 310h1v1h-1zM452 311h1v1h-1zM593 311h2v1h-2zM453 312h2v1h-2zM592 312h1v1h-1zM455 313h1v1h-1zM591 313h1v1h-1zM456 314h1v1h-1zM589 314h2v1h-2zM457 315h2v1h-2zM588 315h1v1h-1zM459 316h1v1h-1zM587 316h1v1h-1zM460 317h1v1h-1zM585 317h2v1h-2zM461 318h2v1h-2zM584 318h1v1h-1zM463 319h1v1h-1zM582 319h2v1h-2zM464 320h3v1h-3zM580 320h2v1h-2zM467 321h3v1h-3zM579 321h1v1h-1zM470 322h2v1h-2zM577 322h2v1h-2zM472 323h3v1h-3zM575 323h2v1h-2zM475 324h4v1h-4zM572 324h3v1h-3zM479 325h4v1h-4zM570 325h2v1h-2zM483 326h3v1h-3zM567 326h3v1h-3zM486 327h2v1h-2zM564 327h3v1h-3zM488 328h2v1h-2zM562 328h2v1h-2zM490 329h2v1h-2zM527 329h35v1h-35zM492 330h2v1h-2zM523 330h4v1h-4zM494 331h2v1h-2zM520 331h3v1h-3zM496 332h3v1h-3zM518 332h2v1h-2zM499 333h19v1h-19z" fill="#0000cd"/>
<rect x="4" y="44" width="1162" height="2" fill="#ff0000"/>
<rect x="3" y="42" width="6" height="6" fill="#ff0000"/>
<rect x="5" y="44" width="2" height="2" fill="#fff"/>
<rect x="1160" y="42" width="6" height="6" fill="#ff0000"/>
<rect x="1162" y="44" width="2" height="2" fill="#fff"/>
<rect x="4" y="123" width="1162" height="2" fill="#ff0000"/>
<rect x="3" y="121" width="6" height="6" fill="#ff0000"/>
<rect x="5" y="123" width="2" height="2" fill="#fff"/>
<rect x="1160" y="121" width="6" height="6" fill="#ff0000"/>
<rect x="1162" y="123" width="2" height="2" fill="#fff"/>
<rect x="4" y="184" width="1162" height="2" fill="#00ff00"/>
<rect x="3" y="182" width="6" height="6" fill="#00ff00"/>
<rect x="5" y="184" width="2" height="2" fill="#fff"/>
<rect x="1160" y="182" width="6" height="6" fill="#00ff00"/>
<rect x="1162" y="184" width="2" height="2" fill="#fff"/>
<rect x="4" y="264" width="1162" height="2" fill="#0000ff"/>
<rect x="3" y="262" width="6" height="6" fill="#0000ff"/>
<rect x="5" y="264" width="2" height="2" fill="#fff"/>
<rect x="1160" y="262" width="6" height="6" fill="#0000ff"/>
<rect x="1162" y="264" width="2" height="2" fill="#fff"/>
<rect x="4" y="358" width="1162" height="2" fill="#0000ff"/>
<rect x="4" y="207" width="1" height="21" fill="#2cc82c"/>
<rect x="4" y="214" width="2" height="7" fill="#2cc82c"/>
<rect x="4" y="215" width="1" height="5" fill="#3cd23c"/>
<rect x="8" y="208" width="1" height="18" fill="#2cc82c"/>
<rect x="7" y="220" width="3" height="4" fill="#2cc82c"/>
<rect x="8" y="221" width="1" height="2" fill="#3cd23c"/>
<rect x="12" y="220" width="1" height="5" fill="#ff0000"/>
<rect x="11" y="222" width="3" height="2" fill="#ff0000"/>
<rect x="16" y="220" width="1" height="23" fill="#2cc82c"/>
<rect x="15" y="223" width="3" height="16" fill="#2cc82c"/>
<rect x="16" y="224" width="1" height="14" fill="#3cd23c"/>
<rect x="20" y="233" width="1" height="29" fill="#2cc82c"/>
<rect x="19" y="239" width="3" height="15" fill="#2cc82c"/>
<rect x="20" y="240" width="1" height="13" fill="#3cd23c"/>
<rect x="24" y="212" width="1" height="46" fill="#ff0000"/>
<rect x="23" y="212" width="3" height="41" fill="#ff0000"/>
<rect x="24" y="213" width="1" height="39" fill="#ff4500"/>
<rect x="28" y="190" width="1" height="38" fill="#2cc82c"/>
<rect x="27" y="212" width="3" height="16" fill="#2cc82c"/>
<rect x="28" y="213" width="1" height="14" fill="#3cd23c"/>
<rect x="32" y="201" width="1" height="37" fill="#ff0000"/>
<rect x="31" y="204" width="3" height="23" fill="#ff0000"/>
<rect x="32" y="205" width="1" height="21" fill="#ff4500"/>
<rect x="36" y="200" width="1" height="9" fill="#2cc82c"/>
<rect x="35" y="204" width="3" height="5" fill="#2cc82c"/>
<rect x="36" y="205" width="1" height="3" fill="#3cd23c"/>
<rect x="40" y="206" width="1" height="26" fill="#2cc82c"/>
<rect x="39" y="212" width="3" height="4" fill="#2cc82c"/>
<rect x="40" y="213" width="1" height="2" fill="#3cd23c"/>
<rect x="44" y="206" width="1" height="24" fill="#2cc82c"/>
<rect x="43" y="212" width="3" height="13" fill="#2cc82c"/>
<rect x="44" y="213" width="1" height="11" fill="#3cd23c"/>
<rect x="48" y="209" width="1" height="24" fill="#2cc82c"/>
<rect x="47" y="224" width="3" height="2" fill="#2cc82c"/>
<rect x="52" y="208" width="1" height="42" fill="#2cc82c"/>
<rect x="51" y="225" width="3" height="5" fill="#2cc82c"/>
<rect x="52" y="226" width="1" height="3" fill="#3cd23c"/>
<rect x="56" y="218" width="1" height="38" fill="#2cc82c"/>
<rect x="55" y="229" width="3" height="19" fill="#2cc82c"/>
<rect x="56" y="230" width="1" height="17" fill="#3cd23c"/>
<rect x="60" y="240" width="1" height="10" fill="#ff0000"/>
<rect x="59" y="243" width="3" height="5" fill="#ff0000"/>
<rect x="60" y="244" width="1" height="3" fill="#ff4500"/>
<rect x="64" y="241" width="1" height="27" fill="#2cc82c"/>
<rect x="63" y="248" width="3" height="13" fill="#2cc82c"/>
<rect x="64" y="249" width="1" height="11" fill="#3cd23c"/>
<rect x="68" y="218" width="1" height="49" fill="#ff0000"/>
<rect x="67" y="232" width="3" height="29" fill="#ff0000"/>
<rect x="68" y="233" width="1" height="27" fill="#ff4500"/>
<rect x="72" y="201" width="1" height="32" fill="#ff0000"/>
<rect x="71" y="215" width="3" height="18" fill="#ff0000"/>
<rect x="72" y="216" width="1" height="16" fill="#ff4500"/>
<rect x="76" y="199" width="1" height="27" fill="#2cc82c"/>
<rect x="75" y="215" width="3" height="2" fill="#2cc82c"/>
<rect x="80" y="189" width="1" height="38" fill="#ff0000"/>
<rect x="79" y="196" width="3" height="21" fill="#ff0000"/>
<rect x="80" y="197" width="1" height="19" fill="#ff4500"/>
<rect x="84" y="194" width="1" height="16" fill="#2cc82c"/>
<rect x="83" y="196" width="3" height="13" fill="#2cc82c"/>
<rect x="84" y="197" width="1" height="11" fill="#3cd23c"/>
<rect x="88" y="191" width="1" height="19" fill="#ff0000"/>
<rect x="87" y="192" width="3" height="13" fill="#ff0000"/>
<rect x="88" y="193" width="1" height="11" fill="#ff4500"/>
<rect x="92" y="171" width="1" height="22" fill="#ff0000"/>
<rect x="91" y="187" width="3" height="6" fill="#ff0000"/>
<rect x="92" y="188" width="1" height="4" fill="#ff4500"/>
<rect x="96" y="176" width="1" height="33" fill="#2cc82c"/>
<rect x="95" y="187" width="3" height="18" fill="#2cc82c"/>
<rect x="96" y="188" width="1" height="16" fill="#3cd23c"/>
<rect x="100" y="202" width="1" height="42" fill="#2cc82c"/>
<rect x="99" y="204" width="3" height="26" fill="#2cc82c"/>
<rect x="100" y="205" width="1" height="24" fill="#3cd23c"/>
<rect x="104" y="214" width="1" height="18" fill="#ff0000"/>
<rect x="103" y="223" width="3" height="7" fill="#ff0000"/>
<rect x="104" y="224" width="1" height="5" fill="#ff4500"/>
<rect x="108" y="218" width="1" height="8" fill="#ff0000"/>
<rect x="107" y="220" width="3" height="4" fill="#ff0000"/>
<rect x="108" y="221" width="1" height="2" fill="#ff4500"/>
<rect x="112" y="220" width="1" height="20" fill="#2cc82c"/>
<rect x="111" y="225" width="3" height="9" fill="#2cc82c"/>
<rect x="112" y="226" width="1" height="7" fill="#3cd23c"/>
<rect x="116" y="224" width="1" height="19" fill="#ff0000"/>
<rect x="115" y="226" width="3" height="7" fill="#ff0000"/>
<rect x="116" y="227" width="1" height="5" fill="#ff4500"/>
<rect x="120" y="222" width="1" height="19" fill="#2cc82c"/>
<rect x="119" y="226" width="3" height="3" fill="#2cc82c"/>
<rect x="120" y="227" width="1" height="1" fill="#3cd23c"/>
<rect x="124" y="200" width="1" height="37" fill="#ff0000"/>
<rect x="123" y="220" width="3" height="8" fill="#ff0000"/>
<rect x="124" y="221" width="1" height="6" fill="#ff4500"/>
<rect x="128" y="212" width="1" height="20" fill="#2cc82c"/>
<rect x="127" y="220" width="3" height="2" fill="#2cc82c"/>
<rect x="132" y="215" width="1" height="10" fill="#ff0000"/>
<rect x="131" y="218" width="3" height="4" fill="#ff0000"/>
<rect x="132" y="219" width="1" height="2" fill="#ff4500"/>
<rect x="136" y="185" width="1" height="41" fill="#ff0000"/>
<rect x="135" y="189" width="3" height="28" fill="#ff0000"/>
<rect x="136" y="190" width="1" height="26" fill="#ff4500"/>
<rect x="140" y="172" width="1" height="30" fill="#ff0000"/>
<rect x="139" y="172" width="3" height="18" fill="#ff0000"/>
<rect x="140" y="173" width="1" height="16" fill="#ff4500"/>
<rect x="144" y="151" width="1" height="25" fill="#ff0000"/>
<rect x="143" y="156" width="3" height="17" fill="#ff0000"/>
<rect x="144" y="157" width="1" height="15" fill="#ff4500"/>
<rect x="148" y="134" width="1" height="31" fill="#ff0000"/>
<rect x="147" y="142" width="3" height="15" fill="#ff0000"/>
<rect x="148" y="143" width="1" height="13" fill="#ff4500"/>
<rect x="152" y="126" width="1" height="22" fill="#ff0000"/>
<rect x="151" y="128" width="3" height="14" fill="#ff0000"/>
<rect x="152" y="129" width="1" height="12" fill="#ff4500"/>
<rect x="156" y="126" width="1" height="6" fill="#2cc82c"/>
<rect x="155" y="128" width="3" height="3" fill="#2cc82c"/>
<rect x="156" y="129" width="1" height="1" fill="#3cd23c"/>
<rect x="160" y="126" width="1" height="24" fill="#2cc82c"/>
<rect x="159" y="132" width="3" height="18" fill="#2cc82c"/>
<rect x="160" y="133" width="1" height="16" fill="#3cd23c"/>
<rect x="164" y="147" width="1" height="29" fill="#2cc82c"/>
<rect x="163" y="149" width="3" height="15" fill="#2cc82c"/>
<rect x="164" y="150" width="1" height="13" fill="#3cd23c"/>
<rect x="168" y="150" width="1" height="39" fill="#2cc82c"/>
<rect x="167" y="164" width="3" height="14" fill="#2cc82c"/>
<rect x="168" y="165" width="1" height="12" fill="#3cd23c"/>
<rect x="172" y="161" width="1" height="27" fill="#2cc82c"/>
<rect x="171" y="176" width="3" height="6" fill="#2cc82c"/>
<rect x="172" y="177" width="1" height="4" fill="#3cd23c"/>
<rect x="176" y="163" width="1" height="20" fill="#ff0000"/>
<rect x="175" y="170" width="3" height="12" fill="#ff0000"/>
<rect x="176" y="171" width="1" height="10" fill="#ff4500"/>
<rect x="180" y="168" width="1" height="5" fill="#ff0000"/>
<rect x="179" y="169" width="3" height="2" fill="#ff0000"/>
<rect x="184" y="178" width="1" height="19" fill="#2cc82c"/>
<rect x="183" y="182" width="3" height="12" fill="#2cc82c"/>
<rect x="184" y="183" width="1" height="10" fill="#3cd23c"/>
<rect x="188" y="189" width="1" height="14" fill="#2cc82c"/>
<rect x="187" y="192" width="3" height="3" fill="#2cc82c"/>
<rect x="188" y="193" width="1" height="1" fill="#3cd23c"/>
<rect x="192" y="180" width="1" height="18" fill="#ff0000"/>
<rect x="191" y="186" width="3" height="8" fill="#ff0000"/>
<rect x="192" y="187" width="1" height="6" fill="#ff4500"/>
<rect x="196" y="173" width="1" height="19" fill="#ff0000"/>
<rect x="195" y="181" width="3" height="7" fill="#ff0000"/>
<rect x="196" y="182" width="1" height="5" fill="#ff4500"/>
<rect x="200" y="182" width="1" height="37" fill="#2cc82c"/>
<rect x="199" y="182" width="3" height="37" fill="#2cc82c"/>
<rect x="200" y="183" width="1" height="35" fill="#3cd23c"/>
<rect x="204" y="215" width="1" height="6" fill="#2cc82c"/>
<rect x="203" y="218" width="3" height="2" fill="#2cc82c"/>
<rect x="208" y="208" width="1" height="18" fill="#2cc82c"/>
<rect x="207" y="217" width="3" height="4" fill="#2cc82c"/>
<rect x="208" y="218" width="1" height="2" fill="#3cd23c"/>
<rect x="212" y="195" width="1" height="31" fill="#ff0000"/>
<rect x="211" y="197" width="3" height="24" fill="#ff0000"/>
<rect x="212" y="198" width="1" height="22" fill="#ff4500"/>
<rect x="216" y="189" width="1" height="25" fill="#2cc82c"/>
<rect x="215" y="197" width="3" height="10" fill="#2cc82c"/>
<rect x="216" y="198" width="1" height="8" fill="#3cd23c"/>
<rect x="220" y="193" width="1" height="16" fill="#ff0000"/>
<rect x="219" y="198" width="3" height="9" fill="#ff0000"/>
<rect x="220" y="199" width="1" height="7" fill="#ff4500"/>
<rect x="224" y="189" width="1" height="20" fill="#ff0000"/>
<rect x="223" y="194" width="3" height="5" fill="#ff0000"/>
<rect x="224" y="195" width="1" height="3" fill="#ff4500"/>
<rect x="228" y="192" width="1" height="5" fill="#2cc82c"/>
<rect x="227" y="193" width="3" height="3" fill="#2cc82c"/>
<rect x="228" y="194" width="1" height="1" fill="#3cd23c"/>
<rect x="232" y="188" width="1" height="36" fill="#2cc82c"/>
<rect x="231" y="194" width="3" height="29" fill="#2cc82c"/>
<rect x="232" y="195" width="1" height="27" fill="#3cd23c"/>
<rect x="236" y="214" width="1" height="27" fill="#2cc82c"/>
<rect x="235" y="222" width="3" height="11" fill="#2cc82c"/>
<rect x="236" y="223" width="1" height="9" fill="#3cd23c"/>
<rect x="240" y="232" width="1" height="21" fill="#2cc82c"/>
<rect x="239" y="232" width="3" height="15" fill="#2cc82c"/>
<rect x="240" y="233" width="1" height="13" fill="#3cd23c"/>
<rect x="244" y="228" width="1" height="22" fill="#ff0000"/>
<rect x="243" y="231" width="3" height="16" fill="#ff0000"/>
<rect x="244" y="232" width="1" height="14" fill="#ff4500"/>
<rect x="248" y="222" width="1" height="29" fill="#2cc82c"/>
<rect x="247" y="231" width="3" height="10" fill="#2cc82c"/>
<rect x="248" y="232" width="1" height="8" fill="#3cd23c"/>
<rect x="252" y="236" width="1" height="11" fill="#2cc82c"/>
<rect x="251" y="240" width="3" height="5" fill="#2cc82c"/>
<rect x="252" y="241" width="1" height="3" fill="#3cd23c"/>
<rect x="256" y="228" width="1" height="19" fill="#ff0000"/>
<rect x="255" y="231" width="3" height="12" fill="#ff0000"/>
<rect x="256" y="232" width="1" height="10" fill="#ff4500"/>
<rect x="260" y="220" width="1" height="18" fill="#2cc82c"/>
<rect x="259" y="231" width="3" height="5" fill="#2cc82c"/>
<rect x="260" y="232" width="1" height="3" fill="#3cd23c"/>
<rect x="264" y="206" width="1" height="32" fill="#ff0000"/>
<rect x="263" y="220" width="3" height="16" fill="#ff0000"/>
<rect x="264" y="221" width="1" height="14" fill="#ff4500"/>
<rect x="268" y="185" width="1" height="40" fill="#ff0000"/>
<rect x="267" y="186" width="3" height="35" fill="#ff0000"/>
<rect x="268" y="187" width="1" height="33" fill="#ff4500"/>
<rect x="272" y="185" width="1" height="17" fill="#2cc82c"/>
<rect x="271" y="185" width="3" height="3" fill="#2cc82c"/>
<rect x="272" y="186" width="1" height="1" fill="#3cd23c"/>
<rect x="276" y="184" width="1" height="8" fill="#ff0000"/>
<rect x="275" y="185" width="3" height="4" fill="#ff0000"/>
<rect x="276" y="186" width="1" height="2" fill="#ff4500"/>
<rect x="280" y="170" width="1" height="18" fill="#ff0000"/>
<rect x="279" y="174" width="3" height="14" fill="#ff0000"/>
<rect x="280" y="175" width="1" height="12" fill="#ff4500"/>
<rect x="284" y="168" width="1" height="43" fill="#2cc82c"/>
<rect x="283" y="174" width="3" height="34" fill="#2cc82c"/>
<rect x="284" y="175" width="1" height="32" fill="#3cd23c"/>
<rect x="288" y="173" width="1" height="52" fill="#2cc82c"/>
<rect x="287" y="207" width="3" height="4" fill="#2cc82c"/>
<rect x="288" y="208" width="1" height="2" fill="#3cd23c"/>
<rect x="292" y="204" width="1" height="42" fill="#2cc82c"/>
<rect x="291" y="210" width="3" height="28" fill="#2cc82c"/>
<rect x="292" y="211" width="1" height="26" fill="#3cd23c"/>
<rect x="296" y="233" width="1" height="41" fill="#2cc82c"/>
<rect x="295" y="237" width="3" height="32" fill="#2cc82c"/>
<rect x="296" y="238" width="1" height="30" fill="#3cd23c"/>
<rect x="300" y="267" width="1" height="7" fill="#ff0000"/>
<rect x="299" y="268" width="3" height="1" fill="#ff0000"/>
<rect x="304" y="205" width="1" height="70" fill="#ff0000"/>
<rect x="303" y="214" width="3" height="55" fill="#ff0000"/>
<rect x="304" y="215" width="1" height="53" fill="#ff4500"/>
<rect x="308" y="183" width="1" height="33" fill="#ff0000"/>
<rect x="307" y="204" width="3" height="10" fill="#ff0000"/>
<rect x="308" y="205" width="1" height="8" fill="#ff4500"/>
<rect x="312" y="175" width="1" height="32" fill="#ff0000"/>
<rect x="311" y="180" width="3" height="25" fill="#ff0000"/>
<rect x="312" y="181" width="1" height="23" fill="#ff4500"/>
<rect x="316" y="179" width="1" height="25" fill="#2cc82c"/>
<rect x="315" y="180" width="3" height="20" fill="#2cc82c"/>
<rect x="316" y="181" width="1" height="18" fill="#3cd23c"/>
<rect x="320" y="191" width="1" height="16" fill="#2cc82c"/>
<rect x="319" y="200" width="3" height="3" fill="#2cc82c"/>
<rect x="320" y="201" width="1" height="1" fill="#3cd23c"/>
<rect x="324" y="201" width="1" height="7" fill="#2cc82c"/>
<rect x="323" y="201" width="3" height="3" fill="#2cc82c"/>
<rect x="324" y="202" width="1" height="1" fill="#3cd23c"/>
<rect x="328" y="194" width="1" height="27" fill="#ff0000"/>
<rect x="327" y="206" width="3" height="2" fill="#ff0000"/>
<rect x="332" y="205" width="1" height="20" fill="#2cc82c"/>
<rect x="331" y="206" width="3" height="11" fill="#2cc82c"/>
<rect x="332" y="207" width="1" height="9" fill="#3cd23c"/>
<rect x="336" y="208" width="1" height="15" fill="#2cc82c"/>
<rect x="335" y="216" width="3" height="6" fill="#2cc82c"/>
<rect x="336" y="217" width="1" height="4" fill="#3cd23c"/>
<rect x="340" y="200" width="1" height="24" fill="#ff0000"/>
<rect x="339" y="209" width="3" height="13" fill="#ff0000"/>
<rect x="340" y="210" width="1" height="11" fill="#ff4500"/>
<rect x="344" y="207" width="1" height="16" fill="#2cc82c"/>
<rect x="343" y="209" width="3" height="4" fill="#2cc82c"/>
<rect x="344" y="210" width="1" height="2" fill="#3cd23c"/>
<rect x="348" y="209" width="1" height="7" fill="#ff0000"/>
<rect x="347" y="211" width="3" height="3" fill="#ff0000"/>
<rect x="348" y="212" width="1" height="1" fill="#ff4500"/>
<rect x="352" y="199" width="1" height="32" fill="#ff0000"/>
<rect x="351" y="201" width="3" height="13" fill="#ff0000"/>
<rect x="352" y="202" width="1" height="11" fill="#ff4500"/>
<rect x="356" y="196" width="1" height="25" fill="#2cc82c"/>
<rect x="355" y="201" width="3" height="10" fill="#2cc82c"/>
<rect x="356" y="202" width="1" height="8" fill="#3cd23c"/>
<rect x="360" y="200" width="1" height="30" fill="#2cc82c"/>
<rect x="359" y="209" width="3" height="12" fill="#2cc82c"/>
<rect x="360" y="210" width="1" height="10" fill="#3cd23c"/>
<rect x="364" y="220" width="1" height="16" fill="#2cc82c"/>
<rect x="363" y="220" width="3" height="13" fill="#2cc82c"/>
<rect x="364" y="221" width="1" height="11" fill="#3cd23c"/>
<rect x="368" y="227" width="1" height="18" fill="#2cc82c"/>
<rect x="367" y="233" width="3" height="9" fill="#2cc82c"/>
<rect x="368" y="234" width="1" height="7" fill="#3cd23c"/>
<rect x="372" y="240" width="1" height="8" fill="#2cc82c"/>
<rect x="371" y="242" width="3" height="3" fill="#2cc82c"/>
<rect x="372" y="243" width="1" height="1" fill="#3cd23c"/>
<rect x="376" y="235" width="1" height="23" fill="#ff0000"/>
<rect x="375" y="242" width="3" height="5" fill="#ff0000"/>
<rect x="376" y="243" width="1" height="3" fill="#ff4500"/>
<rect x="380" y="222" width="1" height="42" fill="#2cc82c"/>
<rect x="379" y="242" width="3" height="20" fill="#2cc82c"/>
<rect x="380" y="243" width="1" height="18" fill="#3cd23c"/>
<rect x="384" y="260" width="1" height="34" fill="#2cc82c"/>
<rect x="383" y="261" width="3" height="22" fill="#2cc82c"/>
<rect x="384" y="262" width="1" height="20" fill="#3cd23c"/>
<rect x="388" y="282" width="1" height="37" fill="#2cc82c"/>
<rect x="387" y="282" width="3" height="30" fill="#2cc82c"/>
<rect x="388" y="283" width="1" height="28" fill="#3cd23c"/>
<rect x="392" y="302" width="1" height="19" fill="#ff0000"/>
<rect x="391" y="309" width="3" height="3" fill="#ff0000"/>
<rect x="392" y="310" width="1" height="1" fill="#ff4500"/>
<rect x="396" y="307" width="1" height="7" fill="#2cc82c"/>
<rect x="395" y="309" width="3" height="3" fill="#2cc82c"/>
<rect x="396" y="310" width="1" height="1" fill="#3cd23c"/>
<rect x="400" y="291" width="1" height="35" fill="#2cc82c"/>
<rect x="399" y="309" width="3" height="9" fill="#2cc82c"/>
<rect x="400" y="310" width="1" height="7" fill="#3cd23c"/>
<rect x="404" y="307" width="1" height="16" fill="#2cc82c"/>
<rect x="403" y="318" width="3" height="2" fill="#2cc82c"/>
<rect x="408" y="312" width="1" height="16" fill="#ff0000"/>
<rect x="407" y="314" width="3" height="6" fill="#ff0000"/>
<rect x="408" y="315" width="1" height="4" fill="#ff4500"/>
<rect x="412" y="306" width="1" height="31" fill="#2cc82c"/>
<rect x="411" y="313" width="3" height="15" fill="#2cc82c"/>
<rect x="412" y="314" width="1" height="13" fill="#3cd23c"/>
<rect x="416" y="309" width="1" height="28" fill="#ff0000"/>
<rect x="415" y="310" width="3" height="20" fill="#ff0000"/>
<rect x="416" y="311" width="1" height="18" fill="#ff4500"/>
<rect x="420" y="309" width="1" height="9" fill="#2cc82c"/>
<rect x="419" y="310" width="3" height="7" fill="#2cc82c"/>
<rect x="420" y="311" width="1" height="5" fill="#3cd23c"/>
<rect x="424" y="316" width="1" height="22" fill="#ff0000"/>
<rect x="423" y="320" width="3" height="3" fill="#ff0000"/>
<rect x="424" y="321" width="1" height="1" fill="#ff4500"/>
<rect x="428" y="319" width="1" height="19" fill="#2cc82c"/>
<rect x="427" y="320" width="3" height="12" fill="#2cc82c"/>
<rect x="428" y="321" width="1" height="10" fill="#3cd23c"/>
<rect x="432" y="329" width="1" height="19" fill="#2cc82c"/>
<rect x="431" y="331" width="3" height="8" fill="#2cc82c"/>
<rect x="432" y="332" width="1" height="6" fill="#3cd23c"/>
<rect x="436" y="317" width="1" height="34" fill="#2cc82c"/>
<rect x="435" y="338" width="3" height="3" fill="#2cc82c"/>
<rect x="436" y="339" width="1" height="1" fill="#3cd23c"/>
<rect x="440" y="328" width="1" height="21" fill="#ff0000"/>
<rect x="439" y="335" width="3" height="6" fill="#ff0000"/>
<rect x="440" y="336" width="1" height="4" fill="#ff4500"/>
<rect x="444" y="333" width="1" height="11" fill="#2cc82c"/>
<rect x="443" y="335" width="3" height="8" fill="#2cc82c"/>
<rect x="444" y="336" width="1" height="6" fill="#3cd23c"/>
<rect x="448" y="304" width="1" height="39" fill="#ff0000"/>
<rect x="447" y="324" width="3" height="15" fill="#ff0000"/>
<rect x="448" y="325" width="1" height="13" fill="#ff4500"/>
<rect x="452" y="315" width="1" height="25" fill="#ff0000"/>
<rect x="451" y="317" width="3" height="9" fill="#ff0000"/>
<rect x="452" y="318" width="1" height="7" fill="#ff4500"/>
<rect x="456" y="308" width="1" height="22" fill="#ff0000"/>
<rect x="455" y="316" width="3" height="2" fill="#ff0000"/>
<rect x="460" y="306" width="1" height="22" fill="#ff0000"/>
<rect x="459" y="308" width="3" height="9" fill="#ff0000"/>
<rect x="460" y="309" width="1" height="7" fill="#ff4500"/>
<rect x="464" y="305" width="1" height="8" fill="#ff0000"/>
<rect x="463" y="307" width="3" height="3" fill="#ff0000"/>
<rect x="464" y="308" width="1" height="1" fill="#ff4500"/>
<rect x="468" y="304" width="1" height="22" fill="#2cc82c"/>
<rect x="467" y="316" width="3" height="2" fill="#2cc82c"/>
<rect x="472" y="312" width="1" height="35" fill="#2cc82c"/>
<rect x="471" y="316" width="3" height="23" fill="#2cc82c"/>
<rect x="472" y="317" width="1" height="21" fill="#3cd23c"/>
<rect x="476" y="335" width="1" height="19" fill="#2cc82c"/>
<rect x="475" y="338" width="3" height="10" fill="#2cc82c"/>
<rect x="476" y="339" width="1" height="8" fill="#3cd23c"/>
<rect x="480" y="340" width="1" height="24" fill="#ff0000"/>
<rect x="479" y="342" width="3" height="7" fill="#ff0000"/>
<rect x="480" y="343" width="1" height="5" fill="#ff4500"/>
<rect x="484" y="333" width="1" height="12" fill="#ff0000"/>
<rect x="483" y="337" width="3" height="7" fill="#ff0000"/>
<rect x="484" y="338" width="1" height="5" fill="#ff4500"/>
<rect x="488" y="339" width="1" height="29" fill="#2cc82c"/>
<rect x="487" y="343" width="3" height="21" fill="#2cc82c"/>
<rect x="488" y="344" width="1" height="19" fill="#3cd23c"/>
<rect x="492" y="352" width="1" height="15" fill="#2cc82c"/>
<rect x="491" y="362" width="3" height="2" fill="#2cc82c"/>
<rect x="496" y="354" width="1" height="28" fill="#ff0000"/>
<rect x="495" y="355" width="3" height="9" fill="#ff0000"/>
<rect x="496" y="356" width="1" height="7" fill="#ff4500"/>
<rect x="500" y="333" width="1" height="41" fill="#ff0000"/>
<rect x="499" y="334" width="3" height="22" fill="#ff0000"/>
<rect x="500" y="335" width="1" height="20" fill="#ff4500"/>
<rect x="504" y="321" width="1" height="30" fill="#2cc82c"/>
<rect x="503" y="335" width="3" height="12" fill="#2cc82c"/>
<rect x="504" y="336" width="1" height="10" fill="#3cd23c"/>
<rect x="508" y="325" width="1" height="23" fill="#ff0000"/>
<rect x="507" y="333" width="3" height="14" fill="#ff0000"/>
<rect x="508" y="334" width="1" height="12" fill="#ff4500"/>
<rect x="512" y="304" width="1" height="32" fill="#ff0000"/>
<rect x="511" y="307" width="3" height="28" fill="#ff0000"/>
<rect x="512" y="308" width="1" height="26" fill="#ff4500"/>
<rect x="516" y="306" width="1" height="15" fill="#2cc82c"/>
<rect x="515" y="307" width="3" height="10" fill="#2cc82c"/>
<rect x="516" y="308" width="1" height="8" fill="#3cd23c"/>
<rect x="520" y="312" width="1" height="26" fill="#2cc82c"/>
<rect x="519" y="316" width="3" height="9" fill="#2cc82c"/>
<rect x="520" y="317" width="1" height="7" fill="#3cd23c"/>
<rect x="524" y="305" width="1" height="26" fill="#ff0000"/>
<rect x="523" y="318" width="3" height="8" fill="#ff0000"/>
<rect x="524" y="319" width="1" height="6" fill="#ff4500"/>
<rect x="528" y="311" width="1" height="24" fill="#ff0000"/>
<rect x="527" y="314" width="3" height="4" fill="#ff0000"/>
<rect x="528" y="315" width="1" height="2" fill="#ff4500"/>
<rect x="532" y="307" width="1" height="10" fill="#ff0000"/>
<rect x="531" y="308" width="3" height="6" fill="#ff0000"/>
<rect x="532" y="309" width="1" height="4" fill="#ff4500"/>
<rect x="536" y="301" width="1" height="14" fill="#ff0000"/>
<rect x="535" y="311" width="3" height="1" fill="#ff0000"/>
<rect x="540" y="305" width="1" height="25" fill="#2cc82c"/>
<rect x="539" y="311" width="3" height="10" fill="#2cc82c"/>
<rect x="540" y="312" width="1" height="8" fill="#3cd23c"/>
<rect x="544" y="304" width="1" height="24" fill="#ff0000"/>
<rect x="543" y="312" width="3" height="10" fill="#ff0000"/>
<rect x="544" y="313" width="1" height="8" fill="#ff4500"/>
<rect x="548" y="308" width="1" height="31" fill="#2cc82c"/>
<rect x="547" y="312" width="3" height="20" fill="#2cc82c"/>
<rect x="548" y="313" width="1" height="18" fill="#3cd23c"/>
<rect x="552" y="326" width="1" height="17" fill="#2cc82c"/>
<rect x="551" y="331" width="3" height="5" fill="#2cc82c"/>
<rect x="552" y="332" width="1" height="3" fill="#3cd23c"/>
<rect x="556" y="331" width="1" height="8" fill="#ff0000"/>
<rect x="555" y="332" width="3" height="4" fill="#ff0000"/>
<rect x="556" y="333" width="1" height="2" fill="#ff4500"/>
<rect x="560" y="317" width="1" height="22" fill="#ff0000"/>
<rect x="559" y="320" width="3" height="15" fill="#ff0000"/>
<rect x="560" y="321" width="1" height="13" fill="#ff4500"/>
<rect x="564" y="315" width="1" height="15" fill="#2cc82c"/>
<rect x="563" y="320" width="3" height="7" fill="#2cc82c"/>
<rect x="564" y="321" width="1" height="5" fill="#3cd23c"/>
<rect x="568" y="305" width="1" height="28" fill="#ff0000"/>
<rect x="567" y="316" width="3" height="11" fill="#ff0000"/>
<rect x="568" y="317" width="1" height="9" fill="#ff4500"/>
<rect x="572" y="305" width="1" height="24" fill="#2cc82c"/>
<rect x="571" y="316" width="3" height="6" fill="#2cc82c"/>
<rect x="572" y="317" width="1" height="4" fill="#3cd23c"/>
<rect x="576" y="310" width="1" height="17" fill="#ff0000"/>
<rect x="575" y="316" width="3" height="6" fill="#ff0000"/>
<rect x="576" y="317" width="1" height="4" fill="#ff4500"/>
<rect x="580" y="308" width="1" height="10" fill="#ff0000"/>
<rect x="579" y="310" width="3" height="7" fill="#ff0000"/>
<rect x="580" y="311" width="1" height="5" fill="#ff4500"/>
<rect x="584" y="283" width="1" height="35" fill="#ff0000"/>
<rect x="583" y="286" width="3" height="27" fill="#ff0000"/>
<rect x="584" y="287" width="1" height="25" fill="#ff4500"/>
<rect x="588" y="268" width="1" height="24" fill="#ff0000"/>
<rect x="587" y="272" width="3" height="15" fill="#ff0000"/>
<rect x="588" y="273" width="1" height="13" fill="#ff4500"/>
<rect x="592" y="266" width="1" height="15" fill="#ff0000"/>
<rect x="591" y="268" width="3" height="5" fill="#ff0000"/>
<rect x="592" y="269" width="1" height="3" fill="#ff4500"/>
<rect x="596" y="247" width="1" height="28" fill="#ff0000"/>
<rect x="595" y="251" width="3" height="17" fill="#ff0000"/>
<rect x="596" y="252" width="1" height="15" fill="#ff4500"/>
<rect x="600" y="244" width="1" height="24" fill="#2cc82c"/>
<rect x="599" y="251" width="3" height="15" fill="#2cc82c"/>
<rect x="600" y="252" width="1" height="13" fill="#3cd23c"/>
<rect x="604" y="264" width="1" height="7" fill="#2cc82c"/>
<rect x="603" y="264" width="3" height="4" fill="#2cc82c"/>
<rect x="604" y="265" width="1" height="2" fill="#3cd23c"/>
<rect x="608" y="257" width="1" height="18" fill="#ff0000"/>
<rect x="607" y="271" width="3" height="3" fill="#ff0000"/>
<rect x="608" y="272" width="1" height="1" fill="#ff4500"/>
<rect x="612" y="269" width="1" height="30" fill="#2cc82c"/>
<rect x="611" y="271" width="3" height="28" fill="#2cc82c"/>
<rect x="612" y="272" width="1" height="26" fill="#3cd23c"/>
<rect x="616" y="295" width="1" height="21" fill="#2cc82c"/>
<rect x="615" y="298" width="3" height="15" fill="#2cc82c"/>
<rect x="616" y="299" width="1" height="13" fill="#3cd23c"/>
<rect x="620" y="310" width="1" height="9" fill="#ff0000"/>
<rect x="619" y="311" width="3" height="2" fill="#ff0000"/>
<rect x="624" y="294" width="1" height="22" fill="#ff0000"/>
<rect x="623" y="306" width="3" height="6" fill="#ff0000"/>
<rect x="624" y="307" width="1" height="4" fill="#ff4500"/>
<rect x="628" y="302" width="1" height="8" fill="#ff0000"/>
<rect x="627" y="303" width="3" height="4" fill="#ff0000"/>
<rect x="628" y="304" width="1" height="2" fill="#ff4500"/>
<rect x="632" y="302" width="1" height="13" fill="#2cc82c"/>
<rect x="631" y="307" width="3" height="8" fill="#2cc82c"/>
<rect x="632" y="308" width="1" height="6" fill="#3cd23c"/>
<rect x="636" y="299" width="1" height="29" fill="#ff0000"/>
<rect x="635" y="308" width="3" height="7" fill="#ff0000"/>
<rect x="636" y="309" width="1" height="5" fill="#ff4500"/>
<rect x="640" y="270" width="1" height="40" fill="#ff0000"/>
<rect x="639" y="274" width="3" height="35" fill="#ff0000"/>
<rect x="640" y="275" width="1" height="33" fill="#ff4500"/>
<rect x="644" y="268" width="1" height="20" fill="#2cc82c"/>
<rect x="643" y="274" width="3" height="5" fill="#2cc82c"/>
<rect x="644" y="275" width="1" height="3" fill="#3cd23c"/>
<rect x="648" y="278" width="1" height="20" fill="#2cc82c"/>
<rect x="647" y="278" width="3" height="10" fill="#2cc82c"/>
<rect x="648" y="279" width="1" height="8" fill="#3cd23c"/>
<rect x="652" y="279" width="1" height="15" fill="#ff0000"/>
<rect x="651" y="281" width="3" height="9" fill="#ff0000"/>
<rect x="652" y="282" width="1" height="7" fill="#ff4500"/>
<rect x="656" y="255" width="1" height="38" fill="#ff0000"/>
<rect x="655" y="281" width="3" height="6" fill="#ff0000"/>
<rect x="656" y="282" width="1" height="4" fill="#ff4500"/>
<rect x="660" y="259" width="1" height="33" fill="#ff0000"/>
<rect x="659" y="264" width="3" height="18" fill="#ff0000"/>
<rect x="660" y="265" width="1" height="16" fill="#ff4500"/>
<rect x="664" y="221" width="1" height="47" fill="#ff0000"/>
<rect x="663" y="223" width="3" height="42" fill="#ff0000"/>
<rect x="664" y="224" width="1" height="40" fill="#ff4500"/>
<rect x="668" y="223" width="1" height="31" fill="#2cc82c"/>
<rect x="667" y="223" width="3" height="28" fill="#2cc82c"/>
<rect x="668" y="224" width="1" height="26" fill="#3cd23c"/>
<rect x="672" y="233" width="1" height="21" fill="#ff0000"/>
<rect x="671" y="240" width="3" height="11" fill="#ff0000"/>
<rect x="672" y="241" width="1" height="9" fill="#ff4500"/>
<rect x="676" y="218" width="1" height="28" fill="#ff0000"/>
<rect x="675" y="223" width="3" height="17" fill="#ff0000"/>
<rect x="676" y="224" width="1" height="15" fill="#ff4500"/>
<rect x="680" y="192" width="1" height="42" fill="#ff0000"/>
<rect x="679" y="201" width="3" height="29" fill="#ff0000"/>
<rect x="680" y="202" width="1" height="27" fill="#ff4500"/>
<rect x="684" y="175" width="1" height="33" fill="#ff0000"/>
<rect x="683" y="196" width="3" height="6" fill="#ff0000"/>
<rect x="684" y="197" width="1" height="4" fill="#ff4500"/>
<rect x="688" y="177" width="1" height="26" fill="#ff0000"/>
<rect x="687" y="184" width="3" height="13" fill="#ff0000"/>
<rect x="688" y="185" width="1" height="11" fill="#ff4500"/>
<rect x="692" y="144" width="1" height="44" fill="#ff0000"/>
<rect x="691" y="146" width="3" height="39" fill="#ff0000"/>
<rect x="692" y="147" width="1" height="37" fill="#ff4500"/>
<rect x="696" y="117" width="1" height="35" fill="#ff0000"/>
<rect x="695" y="118" width="3" height="30" fill="#ff0000"/>
<rect x="696" y="119" width="1" height="28" fill="#ff4500"/>
<rect x="700" y="114" width="1" height="11" fill="#2cc82c"/>
<rect x="699" y="118" width="3" height="3" fill="#2cc82c"/>
<rect x="700" y="119" width="1" height="1" fill="#3cd23c"/>
<rect x="704" y="97" width="1" height="33" fill="#ff0000"/>
<rect x="703" y="98" width="3" height="26" fill="#ff0000"/>
<rect x="704" y="99" width="1" height="24" fill="#ff4500"/>
<rect x="708" y="89" width="1" height="39" fill="#2cc82c"/>
<rect x="707" y="98" width="3" height="26" fill="#2cc82c"/>
<rect x="708" y="99" width="1" height="24" fill="#3cd23c"/>
<rect x="712" y="116" width="1" height="22" fill="#ff0000"/>
<rect x="711" y="118" width="3" height="7" fill="#ff0000"/>
<rect x="712" y="119" width="1" height="5" fill="#ff4500"/>
<rect x="716" y="113" width="1" height="39" fill="#2cc82c"/>
<rect x="715" y="118" width="3" height="28" fill="#2cc82c"/>
<rect x="716" y="119" width="1" height="26" fill="#3cd23c"/>
<rect x="720" y="112" width="1" height="44" fill="#ff0000"/>
<rect x="719" y="127" width="3" height="19" fill="#ff0000"/>
<rect x="720" y="128" width="1" height="17" fill="#ff4500"/>
<rect x="724" y="126" width="1" height="10" fill="#ff0000"/>
<rect x="723" y="126" width="3" height="2" fill="#ff0000"/>
<rect x="728" y="118" width="1" height="18" fill="#2cc82c"/>
<rect x="727" y="128" width="3" height="5" fill="#2cc82c"/>
<rect x="728" y="129" width="1" height="3" fill="#3cd23c"/>
<rect x="732" y="131" width="1" height="21" fill="#2cc82c"/>
<rect x="731" y="132" width="3" height="11" fill="#2cc82c"/>
<rect x="732" y="133" width="1" height="9" fill="#3cd23c"/>
<rect x="736" y="126" width="1" height="25" fill="#ff0000"/>
<rect x="735" y="136" width="3" height="8" fill="#ff0000"/>
<rect x="736" y="137" width="1" height="6" fill="#ff4500"/>
<rect x="740" y="122" width="1" height="43" fill="#ff0000"/>
<rect x="739" y="133" width="3" height="3" fill="#ff0000"/>
<rect x="740" y="134" width="1" height="1" fill="#ff4500"/>
<rect x="744" y="115" width="1" height="33" fill="#ff0000"/>
<rect x="743" y="124" width="3" height="10" fill="#ff0000"/>
<rect x="744" y="125" width="1" height="8" fill="#ff4500"/>
<rect x="748" y="120" width="1" height="11" fill="#2cc82c"/>
<rect x="747" y="124" width="3" height="5" fill="#2cc82c"/>
<rect x="748" y="125" width="1" height="3" fill="#3cd23c"/>
<rect x="752" y="120" width="1" height="42" fill="#2cc82c"/>
<rect x="751" y="125" width="3" height="33" fill="#2cc82c"/>
<rect x="752" y="126" width="1" height="31" fill="#3cd23c"/>
<rect x="756" y="107" width="1" height="53" fill="#ff0000"/>
<rect x="755" y="112" width="3" height="46" fill="#ff0000"/>
<rect x="756" y="113" width="1" height="44" fill="#ff4500"/>
<rect x="760" y="91" width="1" height="22" fill="#ff0000"/>
<rect x="759" y="98" width="3" height="14" fill="#ff0000"/>
<rect x="760" y="99" width="1" height="12" fill="#ff4500"/>
<rect x="764" y="79" width="1" height="24" fill="#ff0000"/>
<rect x="763" y="80" width="3" height="19" fill="#ff0000"/>
<rect x="764" y="81" width="1" height="17" fill="#ff4500"/>
<rect x="768" y="69" width="1" height="16" fill="#ff0000"/>
<rect x="767" y="78" width="3" height="3" fill="#ff0000"/>
<rect x="768" y="79" width="1" height="1" fill="#ff4500"/>
<rect x="772" y="77" width="1" height="7" fill="#2cc82c"/>
<rect x="771" y="78" width="3" height="4" fill="#2cc82c"/>
<rect x="772" y="79" width="1" height="2" fill="#3cd23c"/>
<rect x="776" y="75" width="1" height="17" fill="#2cc82c"/>
<rect x="775" y="81" width="3" height="6" fill="#2cc82c"/>
<rect x="776" y="82" width="1" height="4" fill="#3cd23c"/>
<rect x="780" y="59" width="1" height="30" fill="#ff0000"/>
<rect x="779" y="64" width="3" height="23" fill="#ff0000"/>
<rect x="780" y="65" width="1" height="21" fill="#ff4500"/>
<rect x="784" y="55" width="1" height="21" fill="#2cc82c"/>
<rect x="783" y="64" width="3" height="5" fill="#2cc82c"/>
<rect x="784" y="65" width="1" height="3" fill="#3cd23c"/>
<rect x="788" y="42" width="1" height="32" fill="#2cc82c"/>
<rect x="787" y="68" width="3" height="5" fill="#2cc82c"/>
<rect x="788" y="69" width="1" height="3" fill="#3cd23c"/>
<rect x="792" y="67" width="1" height="9" fill="#ff0000"/>
<rect x="791" y="70" width="3" height="3" fill="#ff0000"/>
<rect x="792" y="71" width="1" height="1" fill="#ff4500"/>
<rect x="796" y="65" width="1" height="10" fill="#ff0000"/>
<rect x="795" y="67" width="3" height="2" fill="#ff0000"/>
<rect x="800" y="59" width="1" height="41" fill="#2cc82c"/>
<rect x="799" y="64" width="3" height="32" fill="#2cc82c"/>
<rect x="800" y="65" width="1" height="30" fill="#3cd23c"/>
<rect x="804" y="79" width="1" height="35" fill="#2cc82c"/>
<rect x="803" y="96" width="3" height="17" fill="#2cc82c"/>
<rect x="804" y="97" width="1" height="15" fill="#3cd23c"/>
<rect x="808" y="109" width="1" height="31" fill="#2cc82c"/>
<rect x="807" y="112" width="3" height="24" fill="#2cc82c"/>
<rect x="808" y="113" width="1" height="22" fill="#3cd23c"/>
<rect x="812" y="123" width="1" height="30" fill="#2cc82c"/>
<rect x="811" y="136" width="3" height="12" fill="#2cc82c"/>
<rect x="812" y="137" width="1" height="10" fill="#3cd23c"/>
<rect x="816" y="133" width="1" height="24" fill="#ff0000"/>
<rect x="815" y="148" width="3" height="1" fill="#ff0000"/>
<rect x="820" y="146" width="1" height="6" fill="#2cc82c"/>
<rect x="819" y="148" width="3" height="1" fill="#2cc82c"/>
<rect x="824" y="139" width="1" height="27" fill="#2cc82c"/>
<rect x="823" y="146" width="3" height="13" fill="#2cc82c"/>
<rect x="824" y="147" width="1" height="11" fill="#3cd23c"/>
<rect x="828" y="143" width="1" height="26" fill="#2cc82c"/>
<rect x="827" y="158" width="3" height="8" fill="#2cc82c"/>
<rect x="828" y="159" width="1" height="6" fill="#3cd23c"/>
<rect x="832" y="155" width="1" height="24" fill="#ff0000"/>
<rect x="831" y="158" width="3" height="8" fill="#ff0000"/>
<rect x="832" y="159" width="1" height="6" fill="#ff4500"/>
<rect x="836" y="150" width="1" height="18" fill="#2cc82c"/>
<rect x="835" y="158" width="3" height="1" fill="#2cc82c"/>
<rect x="840" y="155" width="1" height="27" fill="#2cc82c"/>
<rect x="839" y="158" width="3" height="16" fill="#2cc82c"/>
<rect x="840" y="159" width="1" height="14" fill="#3cd23c"/>
<rect x="844" y="170" width="1" height="5" fill="#ff0000"/>
<rect x="843" y="172" width="3" height="2" fill="#ff0000"/>
<rect x="848" y="164" width="1" height="42" fill="#2cc82c"/>
<rect x="847" y="169" width="3" height="24" fill="#2cc82c"/>
<rect x="848" y="170" width="1" height="22" fill="#3cd23c"/>
<rect x="852" y="186" width="1" height="21" fill="#2cc82c"/>
<rect x="851" y="193" width="3" height="5" fill="#2cc82c"/>
<rect x="852" y="194" width="1" height="3" fill="#3cd23c"/>
<rect x="856" y="174" width="1" height="24" fill="#ff0000"/>
<rect x="855" y="187" width="3" height="11" fill="#ff0000"/>
<rect x="856" y="188" width="1" height="9" fill="#ff4500"/>
<rect x="860" y="177" width="1" height="22" fill="#ff0000"/>
<rect x="859" y="180" width="3" height="8" fill="#ff0000"/>
<rect x="860" y="181" width="1" height="6" fill="#ff4500"/>
<rect x="864" y="176" width="1" height="24" fill="#2cc82c"/>
<rect x="863" y="180" width="3" height="15" fill="#2cc82c"/>
<rect x="864" y="181" width="1" height="13" fill="#3cd23c"/>
<rect x="868" y="194" width="1" height="10" fill="#2cc82c"/>
<rect x="867" y="194" width="3" height="8" fill="#2cc82c"/>
<rect x="868" y="195" width="1" height="6" fill="#3cd23c"/>
<rect x="872" y="188" width="1" height="22" fill="#ff0000"/>
<rect x="871" y="197" width="3" height="5" fill="#ff0000"/>
<rect x="872" y="198" width="1" height="3" fill="#ff4500"/>
<rect x="876" y="186" width="1" height="23" fill="#2cc82c"/>
<rect x="875" y="197" width="3" height="6" fill="#2cc82c"/>
<rect x="876" y="198" width="1" height="4" fill="#3cd23c"/>
<rect x="880" y="180" width="1" height="30" fill="#2cc82c"/>
<rect x="879" y="202" width="3" height="6" fill="#2cc82c"/>
<rect x="880" y="203" width="1" height="4" fill="#3cd23c"/>
<rect x="884" y="199" width="1" height="30" fill="#2cc82c"/>
<rect x="883" y="207" width="3" height="13" fill="#2cc82c"/>
<rect x="884" y="208" width="1" height="11" fill="#3cd23c"/>
<rect x="888" y="202" width="1" height="27" fill="#ff0000"/>
<rect x="887" y="206" width="3" height="14" fill="#ff0000"/>
<rect x="888" y="207" width="1" height="12" fill="#ff4500"/>
<rect x="892" y="202" width="1" height="7" fill="#ff0000"/>
<rect x="891" y="203" width="3" height="4" fill="#ff0000"/>
<rect x="892" y="204" width="1" height="2" fill="#ff4500"/>
<rect x="896" y="196" width="1" height="27" fill="#2cc82c"/>
<rect x="895" y="205" width="3" height="7" fill="#2cc82c"/>
<rect x="896" y="206" width="1" height="5" fill="#3cd23c"/>
<rect x="900" y="190" width="1" height="28" fill="#ff0000"/>
<rect x="899" y="202" width="3" height="10" fill="#ff0000"/>
<rect x="900" y="203" width="1" height="8" fill="#ff4500"/>
<rect x="904" y="188" width="1" height="22" fill="#2cc82c"/>
<rect x="903" y="202" width="3" height="4" fill="#2cc82c"/>
<rect x="904" y="203" width="1" height="2" fill="#3cd23c"/>
<rect x="908" y="198" width="1" height="35" fill="#2cc82c"/>
<rect x="907" y="204" width="3" height="17" fill="#2cc82c"/>
<rect x="908" y="205" width="1" height="15" fill="#3cd23c"/>
<rect x="912" y="218" width="1" height="45" fill="#2cc82c"/>
<rect x="911" y="221" width="3" height="41" fill="#2cc82c"/>
<rect x="912" y="222" width="1" height="39" fill="#3cd23c"/>
<rect x="916" y="254" width="1" height="9" fill="#ff0000"/>
<rect x="915" y="261" width="3" height="1" fill="#ff0000"/>
<rect x="920" y="257" width="1" height="17" fill="#2cc82c"/>
<rect x="919" y="263" width="3" height="10" fill="#2cc82c"/>
<rect x="920" y="264" width="1" height="8" fill="#3cd23c"/>
<rect x="924" y="259" width="1" height="14" fill="#ff0000"/>
<rect x="923" y="263" width="3" height="10" fill="#ff0000"/>
<rect x="924" y="264" width="1" height="8" fill="#ff4500"/>
</g>
<rect x="5" y="42" width="223" height="68" fill="#fff"/>
<defs><linearGradient id="g" gradientUnits="userSpaceOnUse" x1="0" y1="44" x2="0" y2="108"><stop offset="0" stop-color="#5858f8"/><stop offset="0.45" stop-color="#2c2ce0"/><stop offset="1" stop-color="#0000b4"/></linearGradient><linearGradient id="gb" x1="0" y1="0" x2="0" y2="1"><stop offset="0" stop-color="#f4f4f4"/><stop offset="0.5" stop-color="#e4e4e4"/><stop offset="0.5" stop-color="#d8d8d8"/><stop offset="1" stop-color="#d0d0d0"/></linearGradient></defs>
<path d="M7.5 44.5H58.5V68.5H115.5V107.5H7.5Z" fill="url(#g)" stroke="#0000c8"/>
<path d="M174.5 44.5H225.5V107.5H118.5V68.5H174.5Z" fill="url(#g)" stroke="#0000c8"/>
<rect x="11" y="68" width="44" height="1" fill="#9c9cf4"/>
<rect x="178" y="68" width="44" height="1" fill="#9c9cf4"/>
<rect x="61" y="44" width="110" height="21" fill="#ffffff" stroke="#a4a4a4" stroke-width="1" transform="translate(0.5,0.5)"/>
<rect x="62" y="45" width="20" height="20" fill="url(#gb)"/>
<rect x="151" y="45" width="20" height="20" fill="url(#gb)"/>
<rect x="82" y="45" width="1" height="20" fill="#a4a4a4"/>
<rect x="150" y="45" width="1" height="20" fill="#a4a4a4"/>
<path d="M69 53h5v1h-1v1h-1v1h-1v-1h-1v-1h-1z" fill="#4a5ab8" shape-rendering="crispEdges"/>
<path d="M158 56h5v-1h-1v-1h-1v-1h-1v1h-1v1h-1z" fill="#4a5ab8" shape-rendering="crispEdges"/>
<text x="147" y="59" font-size="12" fill="#000" text-anchor="end">3.00</text>
<text x="19.5" y="60" font-size="12" fill="#f0f0ff" textLength="25.3" lengthAdjust="spacingAndGlyphs">SELL</text>
<text x="187.7" y="60" font-size="12" fill="#f0f0ff" textLength="22.7" lengthAdjust="spacingAndGlyphs">BUY</text>
<text x="27" y="98.3" font-size="11" fill="#fff" textLength="23.5" lengthAdjust="spacingAndGlyphs" font-weight="bold">0.90</text>
<text x="137" y="98.3" font-size="11" fill="#fff" textLength="23.5" lengthAdjust="spacingAndGlyphs" font-weight="bold">0.90</text>
<text x="54.5" y="98.6" font-size="35.5" fill="#fff" textLength="35" lengthAdjust="spacingAndGlyphs" style="font-family:'Liberation Serif',serif">06</text>
<text x="165.5" y="98.6" font-size="35.5" fill="#fff" textLength="35" lengthAdjust="spacingAndGlyphs" style="font-family:'Liberation Serif',serif">08</text>
<text x="94.7" y="83" font-size="11" fill="#fff" font-weight="bold">9</text>
<text x="205.6" y="83" font-size="11" fill="#fff" font-weight="bold">3</text>
<path d="M7 35H14L10.5 31Z" fill="#000" shape-rendering="crispEdges"/>
<text x="19.3" y="36" font-size="9.4" fill="#000" textLength="64" lengthAdjust="spacingAndGlyphs">USDCHF,Daily</text>
<text x="90" y="36" font-size="9.4" fill="#000" textLength="140.8" lengthAdjust="spacingAndGlyphs">0.89861 0.90132 0.89860 0.90066</text>
<rect x="1167" y="57" width="2" height="1" fill="#000"/>
<text x="1172" y="61" font-size="10" fill="#000" textLength="32.5" lengthAdjust="spacingAndGlyphs" class="k">0.94420</text>
<rect x="1167" y="90" width="2" height="1" fill="#000"/>
<text x="1172" y="94" font-size="10" fill="#000" textLength="32.5" lengthAdjust="spacingAndGlyphs" class="k">0.93720</text>
<rect x="1167" y="123" width="2" height="1" fill="#000"/>
<text x="1172" y="127" font-size="10" fill="#000" textLength="32.5" lengthAdjust="spacingAndGlyphs" class="k">0.93020</text>
<rect x="1167" y="156" width="2" height="1" fill="#000"/>
<text x="1172" y="160" font-size="10" fill="#000" textLength="32.5" lengthAdjust="spacingAndGlyphs" class="k">0.92320</text>
<rect x="1167" y="189" width="2" height="1" fill="#000"/>
<text x="1172" y="193" font-size="10" fill="#000" textLength="32.5" lengthAdjust="spacingAndGlyphs" class="k">0.91620</text>
<rect x="1167" y="222" width="2" height="1" fill="#000"/>
<text x="1172" y="226" font-size="10" fill="#000" textLength="32.5" lengthAdjust="spacingAndGlyphs" class="k">0.90920</text>
<rect x="1167" y="255" width="2" height="1" fill="#000"/>
<text x="1172" y="259" font-size="10" fill="#000" textLength="32.5" lengthAdjust="spacingAndGlyphs" class="k">0.90220</text>
<rect x="1167" y="288" width="2" height="1" fill="#000"/>
<text x="1172" y="292" font-size="10" fill="#000" textLength="32.5" lengthAdjust="spacingAndGlyphs" class="k">0.89520</text>
<rect x="1167" y="321" width="2" height="1" fill="#000"/>
<text x="1172" y="325" font-size="10" fill="#000" textLength="32.5" lengthAdjust="spacingAndGlyphs" class="k">0.88820</text>
<rect x="1167" y="354" width="2" height="1" fill="#000"/>
<text x="1172" y="358" font-size="10" fill="#000" textLength="32.5" lengthAdjust="spacingAndGlyphs" class="k">0.88120</text>
<text x="1172.5" y="391" font-size="10" fill="#000" textLength="31.8" lengthAdjust="spacingAndGlyphs" class="k">0.87440</text>
<rect x="1167" y="387" width="2" height="1" fill="#000"/>
<rect x="1168" y="39" width="40" height="11" fill="#ff0000"/>
<text x="1172" y="48.2" font-size="10" fill="#fff" textLength="32.5" lengthAdjust="spacingAndGlyphs">0.94658</text>
<rect x="1168" y="118" width="40" height="11" fill="#ff0000"/>
<text x="1172" y="127.2" font-size="10" fill="#fff" textLength="32.5" lengthAdjust="spacingAndGlyphs">0.92992</text>
<rect x="1168" y="179" width="40" height="11" fill="#00ff00"/>
<text x="1172" y="188.2" font-size="10" fill="#fff" textLength="32.5" lengthAdjust="spacingAndGlyphs">0.91705</text>
<rect x="1168" y="259" width="40" height="11" fill="#0000ff"/>
<text x="1172" y="268.2" font-size="10" fill="#fff" textLength="32.5" lengthAdjust="spacingAndGlyphs">0.90017</text>
<rect x="1168" y="353" width="40" height="11" fill="#0000ff"/>
<text x="1172" y="362.2" font-size="10" fill="#fff" textLength="32.5" lengthAdjust="spacingAndGlyphs">0.88033</text>
<g shape-rendering="crispEdges">
<rect x="4" y="430" width="2" height="22" fill="#c0c0c0"/>
<rect x="7" y="430" width="3" height="22" fill="#c0c0c0"/>
<rect x="11" y="430" width="3" height="22" fill="#c0c0c0"/>
<rect x="15" y="430" width="3" height="22" fill="#c0c0c0"/>
<rect x="19" y="430" width="3" height="21" fill="#c0c0c0"/>
<rect x="23" y="430" width="3" height="20" fill="#c0c0c0"/>
<rect x="27" y="430" width="3" height="20" fill="#c0c0c0"/>
<rect x="31" y="430" width="3" height="18" fill="#c0c0c0"/>
<rect x="35" y="430" width="3" height="16" fill="#c0c0c0"/>
<rect x="39" y="430" width="3" height="16" fill="#c0c0c0"/>
<rect x="43" y="430" width="3" height="15" fill="#c0c0c0"/>
<rect x="47" y="430" width="3" height="14" fill="#c0c0c0"/>
<rect x="51" y="430" width="3" height="14" fill="#c0c0c0"/>
<rect x="55" y="430" width="3" height="14" fill="#c0c0c0"/>
<rect x="59" y="430" width="3" height="14" fill="#c0c0c0"/>
<rect x="63" y="430" width="3" height="15" fill="#c0c0c0"/>
<rect x="67" y="430" width="3" height="14" fill="#c0c0c0"/>
<rect x="71" y="430" width="3" height="12" fill="#c0c0c0"/>
<rect x="75" y="430" width="3" height="10" fill="#c0c0c0"/>
<rect x="79" y="430" width="3" height="8" fill="#c0c0c0"/>
<rect x="83" y="430" width="3" height="6" fill="#c0c0c0"/>
<rect x="87" y="430" width="3" height="4" fill="#c0c0c0"/>
<rect x="91" y="430" width="3" height="3" fill="#c0c0c0"/>
<rect x="95" y="430" width="3" height="2" fill="#c0c0c0"/>
<rect x="99" y="430" width="3" height="4" fill="#c0c0c0"/>
<rect x="103" y="430" width="3" height="4" fill="#c0c0c0"/>
<rect x="107" y="430" width="3" height="4" fill="#c0c0c0"/>
<rect x="111" y="430" width="3" height="4" fill="#c0c0c0"/>
<rect x="115" y="430" width="3" height="4" fill="#c0c0c0"/>
<rect x="119" y="430" width="3" height="4" fill="#c0c0c0"/>
<rect x="123" y="430" width="3" height="4" fill="#c0c0c0"/>
<rect x="127" y="430" width="3" height="4" fill="#c0c0c0"/>
<rect x="131" y="430" width="3" height="4" fill="#c0c0c0"/>
<rect x="135" y="430" width="3" height="2" fill="#c0c0c0"/>
<rect x="139" y="428" width="3" height="2" fill="#c0c0c0"/>
<rect x="143" y="426" width="3" height="4" fill="#c0c0c0"/>
<rect x="147" y="423" width="3" height="7" fill="#c0c0c0"/>
<rect x="151" y="420" width="3" height="10" fill="#c0c0c0"/>
<rect x="155" y="418" width="3" height="12" fill="#c0c0c0"/>
<rect x="159" y="416" width="3" height="14" fill="#c0c0c0"/>
<rect x="163" y="417" width="3" height="13" fill="#c0c0c0"/>
<rect x="167" y="418" width="3" height="12" fill="#c0c0c0"/>
<rect x="171" y="420" width="3" height="10" fill="#c0c0c0"/>
<rect x="175" y="422" width="3" height="8" fill="#c0c0c0"/>
<rect x="179" y="422" width="3" height="8" fill="#c0c0c0"/>
<rect x="183" y="424" width="3" height="6" fill="#c0c0c0"/>
<rect x="187" y="426" width="3" height="4" fill="#c0c0c0"/>
<rect x="191" y="426" width="3" height="4" fill="#c0c0c0"/>
<rect x="195" y="427" width="3" height="3" fill="#c0c0c0"/>
<rect x="199" y="429" width="3" height="1" fill="#c0c0c0"/>
<rect x="203" y="430" width="3" height="2" fill="#c0c0c0"/>
<rect x="207" y="430" width="3" height="3" fill="#c0c0c0"/>
<rect x="211" y="430" width="3" height="4" fill="#c0c0c0"/>
<rect x="215" y="430" width="3" height="4" fill="#c0c0c0"/>
<rect x="219" y="430" width="3" height="4" fill="#c0c0c0"/>
<rect x="223" y="430" width="3" height="2" fill="#c0c0c0"/>
<rect x="227" y="430" width="3" height="2" fill="#c0c0c0"/>
<rect x="231" y="430" width="3" height="4" fill="#c0c0c0"/>
<rect x="235" y="430" width="3" height="6" fill="#c0c0c0"/>
<rect x="239" y="430" width="3" height="8" fill="#c0c0c0"/>
<rect x="243" y="430" width="3" height="9" fill="#c0c0c0"/>
<rect x="247" y="430" width="3" height="10" fill="#c0c0c0"/>
<rect x="251" y="430" width="3" height="10" fill="#c0c0c0"/>
<rect x="255" y="430" width="3" height="10" fill="#c0c0c0"/>
<rect x="259" y="430" width="3" height="10" fill="#c0c0c0"/>
<rect x="263" y="430" width="3" height="8" fill="#c0c0c0"/>
<rect x="267" y="430" width="3" height="6" fill="#c0c0c0"/>
<rect x="271" y="430" width="3" height="4" fill="#c0c0c0"/>
<rect x="275" y="430" width="3" height="2" fill="#c0c0c0"/>
<rect x="279" y="429" width="3" height="1" fill="#c0c0c0"/>
<rect x="283" y="430" width="3" height="1" fill="#c0c0c0"/>
<rect x="287" y="430" width="3" height="1" fill="#c0c0c0"/>
<rect x="291" y="430" width="3" height="4" fill="#c0c0c0"/>
<rect x="295" y="430" width="3" height="6" fill="#c0c0c0"/>
<rect x="299" y="430" width="3" height="9" fill="#c0c0c0"/>
<rect x="303" y="430" width="3" height="7" fill="#c0c0c0"/>
<rect x="307" y="430" width="3" height="6" fill="#c0c0c0"/>
<rect x="311" y="430" width="3" height="3" fill="#c0c0c0"/>
<rect x="315" y="430" width="3" height="2" fill="#c0c0c0"/>
<rect x="319" y="430" width="3" height="1" fill="#c0c0c0"/>
<rect x="323" y="430" width="3" height="1" fill="#c0c0c0"/>
<rect x="327" y="430" width="3" height="1" fill="#c0c0c0"/>
<rect x="331" y="430" width="3" height="1" fill="#c0c0c0"/>
<rect x="335" y="430" width="3" height="1" fill="#c0c0c0"/>
<rect x="339" y="430" width="3" height="1" fill="#c0c0c0"/>
<rect x="343" y="430" width="3" height="1" fill="#c0c0c0"/>
<rect x="347" y="430" width="3" height="1" fill="#c0c0c0"/>
<rect x="351" y="430" width="3" height="1" fill="#c0c0c0"/>
<rect x="355" y="430" width="3" height="1" fill="#c0c0c0"/>
<rect x="359" y="430" width="3" height="2" fill="#c0c0c0"/>
<rect x="363" y="430" width="3" height="3" fill="#c0c0c0"/>
<rect x="367" y="430" width="3" height="4" fill="#c0c0c0"/>
<rect x="371" y="430" width="3" height="5" fill="#c0c0c0"/>
<rect x="375" y="430" width="3" height="6" fill="#c0c0c0"/>
<rect x="379" y="430" width="3" height="8" fill="#c0c0c0"/>
<rect x="383" y="430" width="3" height="10" fill="#c0c0c0"/>
<rect x="387" y="430" width="3" height="14" fill="#c0c0c0"/>
<rect x="391" y="430" width="3" height="16" fill="#c0c0c0"/>
<rect x="395" y="430" width="3" height="18" fill="#c0c0c0"/>
<rect x="399" y="430" width="3" height="20" fill="#c0c0c0"/>
<rect x="403" y="430" width="3" height="21" fill="#c0c0c0"/>
<rect x="407" y="430" width="3" height="21" fill="#c0c0c0"/>
<rect x="411" y="430" width="3" height="22" fill="#c0c0c0"/>
<rect x="415" y="430" width="3" height="21" fill="#c0c0c0"/>
<rect x="419" y="430" width="3" height="20" fill="#c0c0c0"/>
<rect x="423" y="430" width="3" height="20" fill="#c0c0c0"/>
<rect x="427" y="430" width="3" height="21" fill="#c0c0c0"/>
<rect x="431" y="430" width="3" height="21" fill="#c0c0c0"/>
<rect x="435" y="430" width="3" height="22" fill="#c0c0c0"/>
<rect x="439" y="430" width="3" height="21" fill="#c0c0c0"/>
<rect x="443" y="430" width="3" height="20" fill="#c0c0c0"/>
<rect x="447" y="430" width="3" height="19" fill="#c0c0c0"/>
<rect x="451" y="430" width="3" height="18" fill="#c0c0c0"/>
<rect x="455" y="430" width="3" height="16" fill="#c0c0c0"/>
<rect x="459" y="430" width="3" height="14" fill="#c0c0c0"/>
<rect x="463" y="430" width="3" height="13" fill="#c0c0c0"/>
<rect x="467" y="430" width="3" height="12" fill="#c0c0c0"/>
<rect x="471" y="430" width="3" height="12" fill="#c0c0c0"/>
<rect x="475" y="430" width="3" height="12" fill="#c0c0c0"/>
<rect x="479" y="430" width="3" height="13" fill="#c0c0c0"/>
<rect x="483" y="430" width="3" height="13" fill="#c0c0c0"/>
<rect x="487" y="430" width="3" height="14" fill="#c0c0c0"/>
<rect x="491" y="430" width="3" height="15" fill="#c0c0c0"/>
<rect x="495" y="430" width="3" height="15" fill="#c0c0c0"/>
<rect x="499" y="430" width="3" height="14" fill="#c0c0c0"/>
<rect x="503" y="430" width="3" height="12" fill="#c0c0c0"/>
<rect x="507" y="430" width="3" height="11" fill="#c0c0c0"/>
<rect x="511" y="430" width="3" height="9" fill="#c0c0c0"/>
<rect x="515" y="430" width="3" height="7" fill="#c0c0c0"/>
<rect x="519" y="430" width="3" height="6" fill="#c0c0c0"/>
<rect x="523" y="430" width="3" height="5" fill="#c0c0c0"/>
<rect x="527" y="430" width="3" height="4" fill="#c0c0c0"/>
<rect x="531" y="430" width="3" height="3" fill="#c0c0c0"/>
<rect x="535" y="430" width="3" height="2" fill="#c0c0c0"/>
<rect x="539" y="430" width="3" height="2" fill="#c0c0c0"/>
<rect x="543" y="430" width="3" height="1" fill="#c0c0c0"/>
<rect x="547" y="430" width="3" height="2" fill="#c0c0c0"/>
<rect x="551" y="430" width="3" height="2" fill="#c0c0c0"/>
<rect x="555" y="430" width="3" height="2" fill="#c0c0c0"/>
<rect x="559" y="430" width="3" height="2" fill="#c0c0c0"/>
<rect x="563" y="430" width="3" height="2" fill="#c0c0c0"/>
<rect x="567" y="430" width="3" height="1" fill="#c0c0c0"/>
<rect x="571" y="430" width="3" height="1" fill="#c0c0c0"/>
<rect x="575" y="430" width="3" height="1" fill="#c0c0c0"/>
<rect x="579" y="430" width="3" height="1" fill="#c0c0c0"/>
<rect x="583" y="428" width="3" height="2" fill="#c0c0c0"/>
<rect x="587" y="426" width="3" height="4" fill="#c0c0c0"/>
<rect x="591" y="424" width="3" height="6" fill="#c0c0c0"/>
<rect x="595" y="422" width="3" height="8" fill="#c0c0c0"/>
<rect x="599" y="420" width="3" height="10" fill="#c0c0c0"/>
<rect x="603" y="420" width="3" height="10" fill="#c0c0c0"/>
<rect x="607" y="420" width="3" height="10" fill="#c0c0c0"/>
<rect x="611" y="422" width="3" height="8" fill="#c0c0c0"/>
<rect x="615" y="423" width="3" height="7" fill="#c0c0c0"/>
<rect x="619" y="426" width="3" height="4" fill="#c0c0c0"/>
<rect x="623" y="427" width="3" height="3" fill="#c0c0c0"/>
<rect x="627" y="428" width="3" height="2" fill="#c0c0c0"/>
<rect x="631" y="429" width="3" height="1" fill="#c0c0c0"/>
<rect x="635" y="430" width="3" height="1" fill="#c0c0c0"/>
<rect x="639" y="428" width="3" height="2" fill="#c0c0c0"/>
<rect x="643" y="426" width="3" height="4" fill="#c0c0c0"/>
<rect x="647" y="427" width="3" height="3" fill="#c0c0c0"/>
<rect x="651" y="427" width="3" height="3" fill="#c0c0c0"/>
<rect x="655" y="426" width="3" height="4" fill="#c0c0c0"/>
<rect x="659" y="425" width="3" height="5" fill="#c0c0c0"/>
<rect x="663" y="422" width="3" height="8" fill="#c0c0c0"/>
<rect x="667" y="422" width="3" height="8" fill="#c0c0c0"/>
<rect x="671" y="420" width="3" height="10" fill="#c0c0c0"/>
<rect x="675" y="418" width="3" height="12" fill="#c0c0c0"/>
<rect x="679" y="415" width="3" height="15" fill="#c0c0c0"/>
<rect x="683" y="413" width="3" height="17" fill="#c0c0c0"/>
<rect x="687" y="411" width="3" height="19" fill="#c0c0c0"/>
<rect x="691" y="408" width="3" height="22" fill="#c0c0c0"/>
<rect x="695" y="404" width="3" height="26" fill="#c0c0c0"/>
<rect x="699" y="401" width="3" height="29" fill="#c0c0c0"/>
<rect x="703" y="398" width="3" height="32" fill="#c0c0c0"/>
<rect x="707" y="397" width="3" height="33" fill="#c0c0c0"/>
<rect x="711" y="396" width="3" height="34" fill="#c0c0c0"/>
<rect x="715" y="398" width="3" height="32" fill="#c0c0c0"/>
<rect x="719" y="399" width="3" height="31" fill="#c0c0c0"/>
<rect x="723" y="400" width="3" height="30" fill="#c0c0c0"/>
<rect x="727" y="401" width="3" height="29" fill="#c0c0c0"/>
<rect x="731" y="403" width="3" height="27" fill="#c0c0c0"/>
<rect x="735" y="404" width="3" height="26" fill="#c0c0c0"/>
<rect x="739" y="405" width="3" height="25" fill="#c0c0c0"/>
<rect x="743" y="406" width="3" height="24" fill="#c0c0c0"/>
<rect x="747" y="407" width="3" height="23" fill="#c0c0c0"/>
<rect x="751" y="410" width="3" height="20" fill="#c0c0c0"/>
<rect x="755" y="410" width="3" height="20" fill="#c0c0c0"/>
<rect x="759" y="409" width="3" height="21" fill="#c0c0c0"/>
<rect x="763" y="408" width="3" height="22" fill="#c0c0c0"/>
<rect x="767" y="408" width="3" height="22" fill="#c0c0c0"/>
<rect x="771" y="407" width="3" height="23" fill="#c0c0c0"/>
<rect x="775" y="406" width="3" height="24" fill="#c0c0c0"/>
<rect x="779" y="406" width="3" height="24" fill="#c0c0c0"/>
<rect x="783" y="406" width="3" height="24" fill="#c0c0c0"/>
<rect x="787" y="408" width="3" height="22" fill="#c0c0c0"/>
<rect x="791" y="408" width="3" height="22" fill="#c0c0c0"/>
<rect x="795" y="408" width="3" height="22" fill="#c0c0c0"/>
<rect x="799" y="410" width="3" height="20" fill="#c0c0c0"/>
<rect x="803" y="413" width="3" height="17" fill="#c0c0c0"/>
<rect x="807" y="417" width="3" height="13" fill="#c0c0c0"/>
<rect x="811" y="421" width="3" height="9" fill="#c0c0c0"/>
<rect x="815" y="424" width="3" height="6" fill="#c0c0c0"/>
<rect x="819" y="426" width="3" height="4" fill="#c0c0c0"/>
<rect x="823" y="429" width="3" height="1" fill="#c0c0c0"/>
<rect x="827" y="430" width="3" height="2" fill="#c0c0c0"/>
<rect x="831" y="430" width="3" height="4" fill="#c0c0c0"/>
<rect x="835" y="430" width="3" height="5" fill="#c0c0c0"/>
<rect x="839" y="430" width="3" height="7" fill="#c0c0c0"/>
<rect x="843" y="430" width="3" height="8" fill="#c0c0c0"/>
<rect x="847" y="430" width="3" height="10" fill="#c0c0c0"/>
<rect x="851" y="430" width="3" height="12" fill="#c0c0c0"/>
<rect x="855" y="430" width="3" height="13" fill="#c0c0c0"/>
<rect x="859" y="430" width="3" height="13" fill="#c0c0c0"/>
<rect x="863" y="430" width="3" height="13" fill="#c0c0c0"/>
<rect x="867" y="430" width="3" height="14" fill="#c0c0c0"/>
<rect x="871" y="430" width="3" height="14" fill="#c0c0c0"/>
<rect x="875" y="430" width="3" height="15" fill="#c0c0c0"/>
<rect x="879" y="430" width="3" height="15" fill="#c0c0c0"/>
<rect x="883" y="430" width="3" height="16" fill="#c0c0c0"/>
<rect x="887" y="430" width="3" height="16" fill="#c0c0c0"/>
<rect x="891" y="430" width="3" height="15" fill="#c0c0c0"/>
<rect x="895" y="430" width="3" height="14" fill="#c0c0c0"/>
<rect x="899" y="430" width="3" height="14" fill="#c0c0c0"/>
<rect x="903" y="430" width="3" height="14" fill="#c0c0c0"/>
<rect x="907" y="430" width="3" height="15" fill="#c0c0c0"/>
<rect x="911" y="430" width="3" height="16" fill="#c0c0c0"/>
<rect x="915" y="430" width="3" height="18" fill="#c0c0c0"/>
<rect x="919" y="430" width="3" height="20" fill="#c0c0c0"/>
<rect x="923" y="430" width="3" height="20" fill="#c0c0c0"/>
<path d="M727 399h12v1h-12zM720 400h7v1h-7zM739 400h4v1h-4zM718 401h2v1h-2zM743 401h4v1h-4zM716 402h2v1h-2zM747 402h4v1h-4zM714 403h2v1h-2zM751 403h3v1h-3zM712 404h2v1h-2zM754 404h2v1h-2zM710 405h2v1h-2zM756 405h3v1h-3zM708 406h2v1h-2zM759 406h8v1h-8zM707 407h1v1h-1zM767 407h36v1h-36zM705 408h2v1h-2zM803 408h4v1h-4zM704 409h1v1h-1zM807 409h3v1h-3zM702 410h2v1h-2zM810 410h2v1h-2zM700 411h2v1h-2zM812 411h2v1h-2zM699 412h1v1h-1zM814 412h2v1h-2zM697 413h2v1h-2zM816 413h2v1h-2zM696 414h1v1h-1zM818 414h2v1h-2zM694 415h2v1h-2zM820 415h1v1h-1zM692 416h2v1h-2zM821 416h2v1h-2zM690 417h2v1h-2zM823 417h1v1h-1zM688 418h2v1h-2zM824 418h2v1h-2zM686 419h2v1h-2zM826 419h2v1h-2zM175 420h16v1h-16zM684 420h2v1h-2zM828 420h1v1h-1zM171 421h4v1h-4zM191 421h4v1h-4zM682 421h2v1h-2zM829 421h2v1h-2zM168 422h3v1h-3zM195 422h4v1h-4zM611 422h20v1h-20zM679 422h3v1h-3zM831 422h1v1h-1zM166 423h2v1h-2zM199 423h3v1h-3zM608 423h3v1h-3zM631 423h4v1h-4zM675 423h4v1h-4zM832 423h2v1h-2zM164 424h2v1h-2zM202 424h2v1h-2zM606 424h2v1h-2zM635 424h4v1h-4zM671 424h4v1h-4zM834 424h2v1h-2zM162 425h2v1h-2zM204 425h3v1h-3zM603 425h3v1h-3zM639 425h4v1h-4zM667 425h4v1h-4zM836 425h1v1h-1zM159 426h3v1h-3zM207 426h4v1h-4zM600 426h3v1h-3zM643 426h4v1h-4zM663 426h4v1h-4zM837 426h2v1h-2zM156 427h3v1h-3zM211 427h4v1h-4zM598 427h2v1h-2zM647 427h16v1h-16zM839 427h1v1h-1zM154 428h2v1h-2zM215 428h3v1h-3zM595 428h3v1h-3zM840 428h2v1h-2zM152 429h2v1h-2zM218 429h2v1h-2zM591 429h4v1h-4zM842 429h2v1h-2zM150 430h2v1h-2zM220 430h7v1h-7zM339 430h28v1h-28zM587 430h4v1h-4zM844 430h2v1h-2zM147 431h3v1h-3zM227 431h4v1h-4zM335 431h4v1h-4zM367 431h8v1h-8zM559 431h28v1h-28zM846 431h2v1h-2zM143 432h4v1h-4zM231 432h4v1h-4zM331 432h4v1h-4zM375 432h8v1h-8zM547 432h12v1h-12zM848 432h2v1h-2zM115 433h16v1h-16zM135 433h8v1h-8zM235 433h4v1h-4zM291 433h40v1h-40zM383 433h3v1h-3zM544 433h3v1h-3zM850 433h2v1h-2zM107 434h8v1h-8zM131 434h4v1h-4zM239 434h12v1h-12zM287 434h4v1h-4zM386 434h2v1h-2zM542 434h2v1h-2zM852 434h2v1h-2zM103 435h4v1h-4zM251 435h4v1h-4zM283 435h4v1h-4zM388 435h2v1h-2zM539 435h3v1h-3zM854 435h2v1h-2zM99 436h4v1h-4zM255 436h4v1h-4zM279 436h4v1h-4zM390 436h2v1h-2zM535 436h4v1h-4zM856 436h3v1h-3zM95 437h4v1h-4zM259 437h4v1h-4zM275 437h4v1h-4zM392 437h3v1h-3zM531 437h4v1h-4zM859 437h3v1h-3zM91 438h4v1h-4zM263 438h12v1h-12zM395 438h3v1h-3zM527 438h4v1h-4zM862 438h2v1h-2zM88 439h3v1h-3zM398 439h2v1h-2zM523 439h4v1h-4zM864 439h3v1h-3zM86 440h2v1h-2zM400 440h2v1h-2zM519 440h4v1h-4zM867 440h4v1h-4zM83 441h3v1h-3zM402 441h2v1h-2zM515 441h4v1h-4zM871 441h8v1h-8zM75 442h8v1h-8zM404 442h2v1h-2zM491 442h12v1h-12zM507 442h8v1h-8zM879 442h4v1h-4zM67 443h8v1h-8zM406 443h2v1h-2zM479 443h12v1h-12zM503 443h4v1h-4zM883 443h8v1h-8zM63 444h4v1h-4zM408 444h3v1h-3zM475 444h4v1h-4zM891 444h28v1h-28zM55 445h8v1h-8zM411 445h3v1h-3zM471 445h4v1h-4zM919 445h5v1h-5zM51 446h4v1h-4zM414 446h2v1h-2zM468 446h3v1h-3zM43 447h8v1h-8zM416 447h3v1h-3zM466 447h2v1h-2zM39 448h4v1h-4zM419 448h4v1h-4zM459 448h7v1h-7zM35 449h4v1h-4zM423 449h4v1h-4zM455 449h4v1h-4zM27 450h8v1h-8zM427 450h28v1h-28zM23 451h4v1h-4zM19 452h4v1h-4zM15 453h4v1h-4zM11 454h4v1h-4zM4 455h7v1h-7z" fill="#ff0000"/>
</g>
<text x="8.8" y="405" font-size="9.4" fill="#000" textLength="152.5" lengthAdjust="spacingAndGlyphs">MACD(12,26,9) -0.005665 -0.004421</text>
<text x="1170" y="403" font-size="10" fill="#000" textLength="41.4" lengthAdjust="spacingAndGlyphs" class="k">0.010871</text>
<text x="1170" y="434" font-size="10" fill="#000" textLength="17.4" lengthAdjust="spacingAndGlyphs" class="k">0.00</text>
<text x="1170" y="456.5" font-size="10" fill="#000" textLength="42.3" lengthAdjust="spacingAndGlyphs" class="k">-0.008343</text>
<rect x="1167" y="430" width="2" height="1" fill="#000"/>
<rect x="1167" y="392" width="1" height="1" fill="#000"/>
<rect x="1167" y="459" width="1" height="1" fill="#000"/>
<rect x="1167" y="461" width="1" height="1" fill="#000"/>
<rect x="1167" y="530" width="1" height="1" fill="#000"/>
<g shape-rendering="crispEdges">
<line x1="5" y1="483.5" x2="1166" y2="483.5" stroke="#c0c0c0" stroke-dasharray="3,3"/>
<line x1="5" y1="509.5" x2="1166" y2="509.5" stroke="#c0c0c0" stroke-dasharray="3,3"/>
<path d="M703 475h2v1h-2zM696 476h7v1h-7zM705 476h1v1h-1zM694 477h2v1h-2zM706 477h1v1h-1zM692 478h2v1h-2zM706 478h1v1h-1zM690 479h2v1h-2zM707 479h1v1h-1zM688 480h2v1h-2zM708 480h5v1h-5zM596 481h1v1h-1zM686 481h2v1h-2zM713 481h1v1h-1zM151 482h6v1h-6zM595 482h1v1h-1zM597 482h1v1h-1zM664 482h1v1h-1zM683 482h3v1h-3zM714 482h1v1h-1zM148 483h3v1h-3zM157 483h1v1h-1zM593 483h2v1h-2zM598 483h1v1h-1zM663 483h1v1h-1zM665 483h1v1h-1zM680 483h3v1h-3zM714 483h1v1h-1zM764 483h10v1h-10zM780 483h3v1h-3zM146 484h2v1h-2zM158 484h1v1h-1zM591 484h2v1h-2zM599 484h1v1h-1zM663 484h1v1h-1zM665 484h1v1h-1zM678 484h2v1h-2zM715 484h1v1h-1zM719 484h8v1h-8zM762 484h2v1h-2zM774 484h2v1h-2zM778 484h2v1h-2zM783 484h4v1h-4zM791 484h6v1h-6zM144 485h2v1h-2zM158 485h1v1h-1zM588 485h3v1h-3zM600 485h3v1h-3zM662 485h1v1h-1zM666 485h1v1h-1zM676 485h2v1h-2zM716 485h3v1h-3zM727 485h2v1h-2zM744 485h3v1h-3zM760 485h2v1h-2zM776 485h2v1h-2zM787 485h4v1h-4zM797 485h1v1h-1zM142 486h2v1h-2zM159 486h1v1h-1zM586 486h2v1h-2zM603 486h3v1h-3zM661 486h1v1h-1zM666 486h1v1h-1zM675 486h1v1h-1zM729 486h2v1h-2zM742 486h2v1h-2zM747 486h2v1h-2zM759 486h1v1h-1zM797 486h1v1h-1zM140 487h2v1h-2zM160 487h1v1h-1zM584 487h2v1h-2zM606 487h2v1h-2zM661 487h1v1h-1zM667 487h1v1h-1zM673 487h2v1h-2zM731 487h1v1h-1zM735 487h7v1h-7zM749 487h1v1h-1zM757 487h2v1h-2zM798 487h1v1h-1zM139 488h1v1h-1zM161 488h1v1h-1zM583 488h1v1h-1zM608 488h1v1h-1zM660 488h1v1h-1zM667 488h1v1h-1zM671 488h2v1h-2zM732 488h3v1h-3zM749 488h1v1h-1zM756 488h1v1h-1zM798 488h1v1h-1zM137 489h2v1h-2zM162 489h1v1h-1zM583 489h1v1h-1zM609 489h1v1h-1zM659 489h1v1h-1zM668 489h3v1h-3zM750 489h1v1h-1zM755 489h1v1h-1zM799 489h1v1h-1zM136 490h1v1h-1zM163 490h1v1h-1zM279 490h2v1h-2zM582 490h1v1h-1zM609 490h1v1h-1zM640 490h3v1h-3zM658 490h1v1h-1zM750 490h1v1h-1zM754 490h1v1h-1zM799 490h1v1h-1zM135 491h1v1h-1zM164 491h2v1h-2zM268 491h11v1h-11zM281 491h1v1h-1zM312 491h1v1h-1zM581 491h1v1h-1zM610 491h1v1h-1zM639 491h1v1h-1zM643 491h3v1h-3zM657 491h1v1h-1zM751 491h1v1h-1zM754 491h1v1h-1zM800 491h1v1h-1zM88 492h5v1h-5zM135 492h1v1h-1zM166 492h2v1h-2zM267 492h1v1h-1zM281 492h1v1h-1zM311 492h1v1h-1zM313 492h2v1h-2zM512 492h2v1h-2zM581 492h1v1h-1zM610 492h1v1h-1zM639 492h1v1h-1zM646 492h2v1h-2zM651 492h6v1h-6zM751 492h1v1h-1zM753 492h1v1h-1zM801 492h1v1h-1zM80 493h1v1h-1zM87 493h1v1h-1zM93 493h2v1h-2zM134 493h1v1h-1zM168 493h2v1h-2zM176 493h5v1h-5zM267 493h1v1h-1zM282 493h1v1h-1zM309 493h2v1h-2zM315 493h1v1h-1zM511 493h1v1h-1zM514 493h2v1h-2zM531 493h4v1h-4zM579 493h2v1h-2zM611 493h1v1h-1zM638 493h1v1h-1zM648 493h3v1h-3zM752 493h1v1h-1zM802 493h1v1h-1zM79 494h1v1h-1zM81 494h2v1h-2zM86 494h1v1h-1zM95 494h1v1h-1zM133 494h1v1h-1zM170 494h2v1h-2zM174 494h2v1h-2zM181 494h1v1h-1zM266 494h1v1h-1zM283 494h1v1h-1zM308 494h1v1h-1zM316 494h7v1h-7zM352 494h3v1h-3zM510 494h1v1h-1zM516 494h2v1h-2zM527 494h4v1h-4zM535 494h3v1h-3zM544 494h1v1h-1zM568 494h2v1h-2zM576 494h3v1h-3zM611 494h1v1h-1zM638 494h1v1h-1zM803 494h1v1h-1zM77 495h2v1h-2zM83 495h1v1h-1zM85 495h1v1h-1zM96 495h1v1h-1zM133 495h1v1h-1zM172 495h2v1h-2zM182 495h1v1h-1zM192 495h5v1h-5zM266 495h1v1h-1zM283 495h1v1h-1zM306 495h2v1h-2zM323 495h8v1h-8zM350 495h2v1h-2zM355 495h2v1h-2zM510 495h1v1h-1zM518 495h2v1h-2zM523 495h4v1h-4zM538 495h2v1h-2zM542 495h2v1h-2zM545 495h1v1h-1zM560 495h2v1h-2zM567 495h1v1h-1zM570 495h2v1h-2zM574 495h2v1h-2zM612 495h1v1h-1zM637 495h1v1h-1zM804 495h1v1h-1zM75 496h2v1h-2zM84 496h1v1h-1zM97 496h1v1h-1zM131 496h2v1h-2zM183 496h1v1h-1zM191 496h1v1h-1zM197 496h1v1h-1zM223 496h6v1h-6zM265 496h1v1h-1zM284 496h3v1h-3zM304 496h2v1h-2zM331 496h4v1h-4zM339 496h11v1h-11zM357 496h2v1h-2zM509 496h1v1h-1zM520 496h3v1h-3zM540 496h2v1h-2zM546 496h1v1h-1zM559 496h1v1h-1zM562 496h2v1h-2zM565 496h2v1h-2zM572 496h2v1h-2zM613 496h2v1h-2zM627 496h2v1h-2zM637 496h1v1h-1zM805 496h1v1h-1zM72 497h3v1h-3zM98 497h1v1h-1zM123 497h8v1h-8zM184 497h3v1h-3zM189 497h2v1h-2zM197 497h1v1h-1zM212 497h2v1h-2zM220 497h3v1h-3zM229 497h1v1h-1zM265 497h1v1h-1zM287 497h2v1h-2zM304 497h1v1h-1zM335 497h4v1h-4zM359 497h1v1h-1zM508 497h1v1h-1zM546 497h1v1h-1zM558 497h1v1h-1zM564 497h1v1h-1zM615 497h1v1h-1zM624 497h3v1h-3zM629 497h2v1h-2zM636 497h1v1h-1zM806 497h1v1h-1zM32 498h3v1h-3zM70 498h2v1h-2zM98 498h1v1h-1zM104 498h7v1h-7zM119 498h4v1h-4zM187 498h2v1h-2zM198 498h1v1h-1zM211 498h1v1h-1zM214 498h2v1h-2zM218 498h2v1h-2zM230 498h1v1h-1zM264 498h1v1h-1zM289 498h1v1h-1zM303 498h1v1h-1zM360 498h2v1h-2zM463 498h2v1h-2zM507 498h1v1h-1zM547 498h1v1h-1zM557 498h1v1h-1zM616 498h3v1h-3zM622 498h2v1h-2zM631 498h1v1h-1zM634 498h2v1h-2zM807 498h1v1h-1zM31 499h1v1h-1zM35 499h4v1h-4zM68 499h2v1h-2zM99 499h1v1h-1zM102 499h2v1h-2zM111 499h8v1h-8zM199 499h1v1h-1zM211 499h1v1h-1zM216 499h2v1h-2zM230 499h1v1h-1zM263 499h1v1h-1zM290 499h1v1h-1zM303 499h1v1h-1zM362 499h2v1h-2zM459 499h4v1h-4zM465 499h2v1h-2zM500 499h2v1h-2zM506 499h1v1h-1zM548 499h3v1h-3zM555 499h2v1h-2zM619 499h3v1h-3zM632 499h2v1h-2zM808 499h2v1h-2zM24 500h1v1h-1zM30 500h1v1h-1zM39 500h4v1h-4zM67 500h1v1h-1zM100 500h2v1h-2zM199 500h1v1h-1zM210 500h1v1h-1zM231 500h1v1h-1zM262 500h1v1h-1zM291 500h1v1h-1zM302 500h1v1h-1zM364 500h2v1h-2zM455 500h4v1h-4zM467 500h1v1h-1zM499 500h1v1h-1zM502 500h2v1h-2zM505 500h1v1h-1zM551 500h4v1h-4zM810 500h2v1h-2zM24 501h3v1h-3zM30 501h1v1h-1zM43 501h8v1h-8zM67 501h1v1h-1zM200 501h2v1h-2zM209 501h1v1h-1zM232 501h1v1h-1zM256 501h3v1h-3zM261 501h1v1h-1zM292 501h1v1h-1zM302 501h1v1h-1zM366 501h2v1h-2zM452 501h3v1h-3zM468 501h1v1h-1zM499 501h1v1h-1zM504 501h1v1h-1zM812 501h11v1h-11zM23 502h1v1h-1zM27 502h1v1h-1zM29 502h1v1h-1zM51 502h3v1h-3zM66 502h1v1h-1zM202 502h2v1h-2zM209 502h1v1h-1zM233 502h2v1h-2zM244 502h3v1h-3zM254 502h2v1h-2zM259 502h2v1h-2zM293 502h1v1h-1zM302 502h1v1h-1zM368 502h3v1h-3zM375 502h2v1h-2zM451 502h1v1h-1zM469 502h1v1h-1zM498 502h1v1h-1zM823 502h4v1h-4zM831 502h7v1h-7zM900 502h3v1h-3zM23 503h1v1h-1zM28 503h1v1h-1zM54 503h2v1h-2zM66 503h1v1h-1zM204 503h5v1h-5zM235 503h1v1h-1zM243 503h1v1h-1zM247 503h7v1h-7zM294 503h1v1h-1zM301 503h1v1h-1zM371 503h4v1h-4zM377 503h1v1h-1zM449 503h2v1h-2zM470 503h1v1h-1zM498 503h1v1h-1zM827 503h4v1h-4zM838 503h2v1h-2zM860 503h1v1h-1zM898 503h2v1h-2zM903 503h3v1h-3zM22 504h1v1h-1zM56 504h5v1h-5zM65 504h1v1h-1zM236 504h3v1h-3zM241 504h2v1h-2zM294 504h1v1h-1zM301 504h1v1h-1zM378 504h1v1h-1zM448 504h1v1h-1zM471 504h1v1h-1zM483 504h2v1h-2zM497 504h1v1h-1zM840 504h3v1h-3zM858 504h2v1h-2zM861 504h2v1h-2zM891 504h7v1h-7zM906 504h2v1h-2zM22 505h1v1h-1zM61 505h2v1h-2zM65 505h1v1h-1zM239 505h2v1h-2zM295 505h1v1h-1zM300 505h1v1h-1zM379 505h1v1h-1zM447 505h1v1h-1zM472 505h2v1h-2zM480 505h3v1h-3zM485 505h2v1h-2zM497 505h1v1h-1zM843 505h3v1h-3zM856 505h2v1h-2zM863 505h1v1h-1zM888 505h3v1h-3zM908 505h1v1h-1zM4 506h10v1h-10zM21 506h1v1h-1zM63 506h2v1h-2zM296 506h5v1h-5zM380 506h1v1h-1zM447 506h1v1h-1zM474 506h2v1h-2zM478 506h2v1h-2zM487 506h1v1h-1zM496 506h1v1h-1zM846 506h2v1h-2zM855 506h1v1h-1zM864 506h3v1h-3zM871 506h4v1h-4zM887 506h1v1h-1zM909 506h1v1h-1zM14 507h2v1h-2zM21 507h1v1h-1zM64 507h1v1h-1zM381 507h2v1h-2zM416 507h3v1h-3zM446 507h1v1h-1zM476 507h2v1h-2zM488 507h3v1h-3zM494 507h2v1h-2zM848 507h3v1h-3zM853 507h2v1h-2zM867 507h4v1h-4zM875 507h8v1h-8zM885 507h2v1h-2zM909 507h1v1h-1zM16 508h3v1h-3zM20 508h1v1h-1zM383 508h1v1h-1zM415 508h1v1h-1zM419 508h8v1h-8zM446 508h1v1h-1zM491 508h3v1h-3zM851 508h2v1h-2zM883 508h2v1h-2zM910 508h1v1h-1zM19 509h2v1h-2zM384 509h1v1h-1zM415 509h1v1h-1zM427 509h3v1h-3zM440 509h2v1h-2zM445 509h1v1h-1zM911 509h1v1h-1zM385 510h2v1h-2zM414 510h1v1h-1zM430 510h2v1h-2zM438 510h2v1h-2zM442 510h2v1h-2zM445 510h1v1h-1zM911 510h1v1h-1zM387 511h1v1h-1zM408 511h2v1h-2zM413 511h1v1h-1zM432 511h6v1h-6zM444 511h1v1h-1zM912 511h3v1h-3zM388 512h11v1h-11zM406 512h2v1h-2zM410 512h2v1h-2zM413 512h1v1h-1zM915 512h4v1h-4zM922 512h2v1h-2zM399 513h7v1h-7zM412 513h1v1h-1zM919 513h3v1h-3z" fill="#1e90ff"/>
</g>
<text x="8" y="474" font-size="9.4" fill="#000" textLength="68" lengthAdjust="spacingAndGlyphs">RSI(14) 28.8570</text>
<text x="1170.3" y="472" font-size="10" fill="#000" textLength="14.3" lengthAdjust="spacingAndGlyphs" class="k">100</text>
<text x="1169.8" y="487" font-size="10" fill="#000" textLength="9" lengthAdjust="spacingAndGlyphs" class="k">70</text>
<text x="1169.8" y="513" font-size="10" fill="#000" textLength="9" lengthAdjust="spacingAndGlyphs" class="k">30</text>
<text x="1170.5" y="527" font-size="10" fill="#000" textLength="4.5" lengthAdjust="spacingAndGlyphs" class="k">0</text>
<rect x="4" y="531" width="1" height="3" fill="#000"/>
<text x="3.6" y="543.8" font-size="10" fill="#000" textLength="51.5" lengthAdjust="spacingAndGlyphs" class="k">13 Aug 2020</text>
<rect x="68" y="531" width="1" height="3" fill="#000"/>
<text x="67.6" y="543.8" font-size="10" fill="#000" textLength="46.9" lengthAdjust="spacingAndGlyphs" class="k">1 Sep 2020</text>
<rect x="132" y="531" width="1" height="3" fill="#000"/>
<text x="131.6" y="543.8" font-size="10" fill="#000" textLength="52.0" lengthAdjust="spacingAndGlyphs" class="k">19 Sep 2020</text>
<rect x="196" y="531" width="1" height="3" fill="#000"/>
<text x="195.6" y="543.8" font-size="10" fill="#000" textLength="44.9" lengthAdjust="spacingAndGlyphs" class="k">8 Oct 2020</text>
<rect x="260" y="531" width="1" height="3" fill="#000"/>
<text x="259.6" y="543.8" font-size="10" fill="#000" textLength="50.0" lengthAdjust="spacingAndGlyphs" class="k">27 Oct 2020</text>
<rect x="324" y="531" width="1" height="3" fill="#000"/>
<text x="323.6" y="543.8" font-size="10" fill="#000" textLength="52.0" lengthAdjust="spacingAndGlyphs" class="k">14 Nov 2020</text>
<rect x="388" y="531" width="1" height="3" fill="#000"/>
<text x="387.6" y="543.8" font-size="10" fill="#000" textLength="46.9" lengthAdjust="spacingAndGlyphs" class="k">3 Dec 2020</text>
<rect x="452" y="531" width="1" height="3" fill="#000"/>
<text x="451.6" y="543.8" font-size="10" fill="#000" textLength="52.0" lengthAdjust="spacingAndGlyphs" class="k">22 Dec 2020</text>
<rect x="516" y="531" width="1" height="3" fill="#000"/>
<text x="515.6" y="543.8" font-size="10" fill="#000" textLength="50.5" lengthAdjust="spacingAndGlyphs" class="k">12 Jan 2021</text>
<rect x="580" y="531" width="1" height="3" fill="#000"/>
<text x="579.6" y="543.8" font-size="10" fill="#000" textLength="50.5" lengthAdjust="spacingAndGlyphs" class="k">30 Jan 2021</text>
<rect x="644" y="531" width="1" height="3" fill="#000"/>
<text x="643.6" y="543.8" font-size="10" fill="#000" textLength="51.5" lengthAdjust="spacingAndGlyphs" class="k">18 Feb 2021</text>
<rect x="708" y="531" width="1" height="3" fill="#000"/>
<text x="707.6" y="543.8" font-size="10" fill="#000" textLength="46.4" lengthAdjust="spacingAndGlyphs" class="k">9 Mar 2021</text>
<rect x="772" y="531" width="1" height="3" fill="#000"/>
<text x="771.6" y="543.8" font-size="10" fill="#000" textLength="51.5" lengthAdjust="spacingAndGlyphs" class="k">27 Mar 2021</text>
<rect x="836" y="531" width="1" height="3" fill="#000"/>
<text x="835.6" y="543.8" font-size="10" fill="#000" textLength="49.5" lengthAdjust="spacingAndGlyphs" class="k">15 Apr 2021</text>
<rect x="900" y="531" width="1" height="3" fill="#000"/>
<text x="899.6" y="543.8" font-size="10" fill="#000" textLength="47.9" lengthAdjust="spacingAndGlyphs" class="k">4 May 2021</text>
<rect x="0" y="552" width="1208" height="1" fill="#e3e3e3"/>
<rect x="0" y="553" width="1208" height="1" fill="#000"/>
<rect x="0" y="554" width="1208" height="19" fill="#f0f0f0"/>
<rect x="0" y="554" width="1" height="18" fill="#696969"/>
<rect x="0" y="573" width="1208" height="1" fill="#ffffff"/>
<rect x="0" y="574" width="1208" height="2" fill="#f0f0f0"/>
<rect x="0" y="576" width="1208" height="2" fill="#a0a0a0"/>
<rect x="213" y="553" width="100" height="19" fill="#fff"/>
<rect x="213" y="553" width="1" height="19" fill="#000"/>
<rect x="312" y="553" width="1" height="19" fill="#000"/>
<rect x="213" y="571" width="100" height="1" fill="#000"/>
<text x="17.5" y="568" font-size="13" fill="#6e6e6e" textLength="79" lengthAdjust="spacingAndGlyphs">EURUSD,Daily</text>
<text x="120.5" y="568" font-size="13" fill="#6e6e6e" textLength="81.5" lengthAdjust="spacingAndGlyphs">AUDUSD,Daily</text>
<text x="223.3" y="568" font-size="13" fill="#000" textLength="78.4" lengthAdjust="spacingAndGlyphs">USDCHF,Daily</text>
<text x="324" y="568" font-size="13" fill="#6e6e6e" textLength="81" lengthAdjust="spacingAndGlyphs">USDCAD,Daily</text>
<text x="427.4" y="568" font-size="13" fill="#6e6e6e" textLength="82" lengthAdjust="spacingAndGlyphs">USDCNH,Daily</text>
<text x="533.6" y="568" font-size="13" fill="#6e6e6e" textLength="51" lengthAdjust="spacingAndGlyphs">UKOil,H1</text>
<rect x="109" y="557" width="1" height="13" fill="#808080"/>
<rect x="417" y="557" width="1" height="13" fill="#808080"/>
<rect x="521" y="557" width="1" height="13" fill="#808080"/>
<rect x="597" y="557" width="1" height="13" fill="#808080"/>
<path d="M1185 559V566L1181.5 562.5Z" fill="#8c8c8c"/><path d="M1201 559V566L1204.5 562.5Z" fill="#8c8c8c"/>
</svg>
</body></html>
